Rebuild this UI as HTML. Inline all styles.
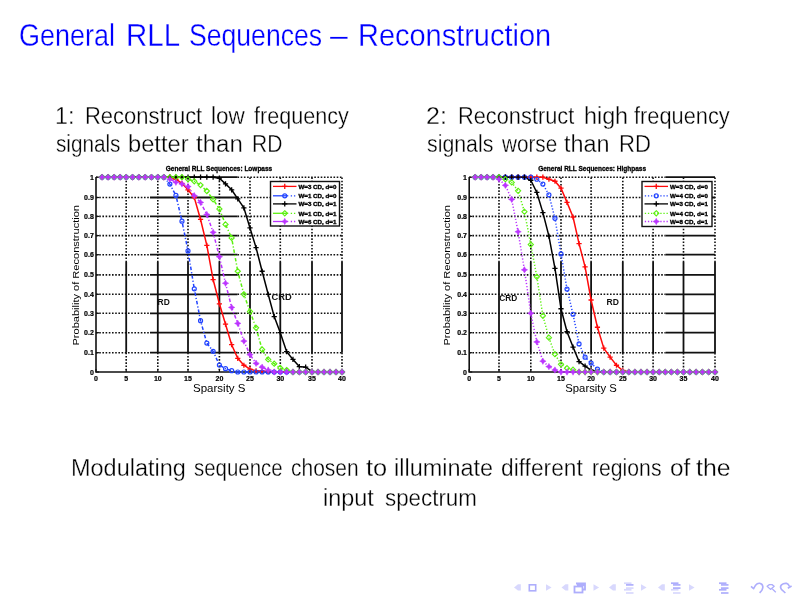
<!DOCTYPE html><html><head><meta charset="utf-8"><title>General RLL Sequences – Reconstruction</title><style>
html,body{margin:0;padding:0;background:#fff;}
body{width:800px;height:600px;overflow:hidden;position:relative;font-family:"Liberation Sans",Arial,sans-serif;}
.tx{position:absolute;white-space:nowrap;line-height:1;transform-origin:0 0;-webkit-text-stroke:0.3px #fff;paint-order:fill stroke;}
svg{position:absolute;left:0;top:0;}
.tk{font:bold 7px "Liberation Sans",sans-serif;fill:#000;stroke:#000;stroke-width:0.2px;}
.lg{font:bold 6.2px "Liberation Sans",sans-serif;fill:#000;stroke:#000;stroke-width:0.35px;}
.pt{font:bold 6.5px "Liberation Sans",sans-serif;fill:#000;stroke:#000;stroke-width:0.3px;}
.al{font:10.5px "Liberation Sans",sans-serif;fill:#000;}
.yl{font-size:9.6px;}
.rd{font:bold 8.5px "Liberation Sans",sans-serif;fill:#111;}
</style></head><body>
<span class="tx" id="t_0" style="left:18.92px;top:20.48px;font-size:30.5px;color:#0000ff;transform:scaleX(0.8843)">General</span>
<span class="tx" id="t_1" style="left:125.52px;top:20.48px;font-size:30.5px;color:#0000ff;transform:scaleX(0.9653)">RLL</span>
<span class="tx" id="t_2" style="left:188.58px;top:20.48px;font-size:30.5px;color:#0000ff;transform:scaleX(0.8717)">Sequences</span>
<span class="tx" id="t_3" style="left:330.45px;top:20.48px;font-size:30.5px;color:#0000ff;transform:scaleX(1.0500)">–</span>
<span class="tx" id="t_4" style="left:357.55px;top:20.48px;font-size:30.5px;color:#0000ff;transform:scaleX(0.9493)">Reconstruction</span>
<span class="tx" id="a1_0" style="left:55.09px;top:105.33px;font-size:23px;color:#000;transform:scaleX(1.0094)">1:</span>
<span class="tx" id="a1_1" style="left:85.49px;top:105.33px;font-size:23px;color:#000;transform:scaleX(0.9552)">Reconstruct</span>
<span class="tx" id="a1_2" style="left:210.72px;top:105.33px;font-size:23px;color:#000;transform:scaleX(0.9764)">low</span>
<span class="tx" id="a1_3" style="left:253.60px;top:105.33px;font-size:23px;color:#000;transform:scaleX(0.9389)">frequency</span>
<span class="tx" id="a2_0" style="left:56.20px;top:133.33px;font-size:23px;color:#000;transform:scaleX(0.9002)">signals</span>
<span class="tx" id="a2_1" style="left:127.92px;top:133.33px;font-size:23px;color:#000;transform:scaleX(1.0309)">better</span>
<span class="tx" id="a2_2" style="left:196.10px;top:133.33px;font-size:23px;color:#000;transform:scaleX(1.0450)">than</span>
<span class="tx" id="a2_3" style="left:252.04px;top:133.33px;font-size:23px;color:#000;transform:scaleX(0.9127)">RD</span>
<span class="tx" id="b1_0" style="left:426.21px;top:105.33px;font-size:23px;color:#000;transform:scaleX(1.0869)">2:</span>
<span class="tx" id="b1_1" style="left:458.35px;top:105.33px;font-size:23px;color:#000;transform:scaleX(0.9475)">Reconstruct</span>
<span class="tx" id="b1_2" style="left:583.79px;top:105.33px;font-size:23px;color:#000;transform:scaleX(1.0134)">high</span>
<span class="tx" id="b1_3" style="left:634.20px;top:105.33px;font-size:23px;color:#000;transform:scaleX(0.9477)">frequency</span>
<span class="tx" id="b2_0" style="left:427.40px;top:133.33px;font-size:23px;color:#000;transform:scaleX(0.9269)">signals</span>
<span class="tx" id="b2_1" style="left:502.35px;top:133.33px;font-size:23px;color:#000;transform:scaleX(0.8991)">worse</span>
<span class="tx" id="b2_2" style="left:564.20px;top:133.33px;font-size:23px;color:#000;transform:scaleX(1.0165)">than</span>
<span class="tx" id="b2_3" style="left:618.74px;top:133.33px;font-size:23px;color:#000;transform:scaleX(0.9601)">RD</span>
<span class="tx" id="c1_0" style="left:70.78px;top:457.33px;font-size:23px;color:#000;transform:scaleX(1.0205)">Modulating</span>
<span class="tx" id="c1_1" style="left:193.95px;top:457.33px;font-size:23px;color:#000;transform:scaleX(0.8878)">sequence</span>
<span class="tx" id="c1_2" style="left:291.10px;top:457.33px;font-size:23px;color:#000;transform:scaleX(0.9124)">chosen</span>
<span class="tx" id="c1_3" style="left:366.10px;top:457.33px;font-size:23px;color:#000;transform:scaleX(1.1039)">to</span>
<span class="tx" id="c1_4" style="left:394.43px;top:457.33px;font-size:23px;color:#000;transform:scaleX(1.0198)">illuminate</span>
<span class="tx" id="c1_5" style="left:500.70px;top:457.33px;font-size:23px;color:#000;transform:scaleX(0.9886)">different</span>
<span class="tx" id="c1_6" style="left:591.78px;top:457.33px;font-size:23px;color:#000;transform:scaleX(0.9211)">regions</span>
<span class="tx" id="c1_7" style="left:670.45px;top:457.33px;font-size:23px;color:#000;transform:scaleX(1.0585)">of</span>
<span class="tx" id="c1_8" style="left:696.10px;top:457.33px;font-size:23px;color:#000;transform:scaleX(1.0808)">the</span>
<span class="tx" id="c2_0" style="left:323.18px;top:487.33px;font-size:23px;color:#000;transform:scaleX(1.0175)">input</span>
<span class="tx" id="c2_1" style="left:384.80px;top:487.33px;font-size:23px;color:#000;transform:scaleX(0.9714)">spectrum</span>
<svg width="800" height="600" viewBox="0 0 800 600">
<path d="M96 352.7H150" stroke="#111" stroke-width="1.6" stroke-dasharray="1.6 1.6" fill="none"/>
<path d="M150 352.7H237.5" stroke="#111" stroke-width="1.8" fill="none"/>
<path d="M237.5 352.7H342" stroke="#111" stroke-width="1.6" stroke-dasharray="1.6 1.6" fill="none"/>
<path d="M96 332.7H150" stroke="#111" stroke-width="1.6" stroke-dasharray="1.6 1.6" fill="none"/>
<path d="M150 332.7H237.5" stroke="#111" stroke-width="1.8" fill="none"/>
<path d="M237.5 332.7H342" stroke="#111" stroke-width="1.6" stroke-dasharray="1.6 1.6" fill="none"/>
<path d="M96 313.3H150" stroke="#111" stroke-width="1.6" stroke-dasharray="1.6 1.6" fill="none"/>
<path d="M150 313.3H237.5" stroke="#111" stroke-width="1.8" fill="none"/>
<path d="M237.5 313.3H342" stroke="#111" stroke-width="1.6" stroke-dasharray="1.6 1.6" fill="none"/>
<path d="M96 294.3H150" stroke="#111" stroke-width="1.6" stroke-dasharray="1.6 1.6" fill="none"/>
<path d="M150 294.3H237.5" stroke="#111" stroke-width="1.8" fill="none"/>
<path d="M237.5 294.3H342" stroke="#111" stroke-width="1.6" stroke-dasharray="1.6 1.6" fill="none"/>
<path d="M96 274.9H150" stroke="#111" stroke-width="1.6" stroke-dasharray="1.6 1.6" fill="none"/>
<path d="M150 274.9H237.5" stroke="#111" stroke-width="1.8" fill="none"/>
<path d="M237.5 274.9H342" stroke="#111" stroke-width="1.6" stroke-dasharray="1.6 1.6" fill="none"/>
<path d="M96 254.7H150" stroke="#111" stroke-width="1.6" stroke-dasharray="1.6 1.6" fill="none"/>
<path d="M150 254.7H237.5" stroke="#111" stroke-width="1.8" fill="none"/>
<path d="M237.5 254.7H342" stroke="#111" stroke-width="1.6" stroke-dasharray="1.6 1.6" fill="none"/>
<path d="M96 235.6H150" stroke="#111" stroke-width="1.6" stroke-dasharray="1.6 1.6" fill="none"/>
<path d="M150 235.6H237.5" stroke="#111" stroke-width="1.8" fill="none"/>
<path d="M237.5 235.6H342" stroke="#111" stroke-width="1.6" stroke-dasharray="1.6 1.6" fill="none"/>
<path d="M96 216.4H150" stroke="#111" stroke-width="1.6" stroke-dasharray="1.6 1.6" fill="none"/>
<path d="M150 216.4H237.5" stroke="#111" stroke-width="1.8" fill="none"/>
<path d="M237.5 216.4H342" stroke="#111" stroke-width="1.6" stroke-dasharray="1.6 1.6" fill="none"/>
<path d="M96 197.5H150" stroke="#111" stroke-width="1.6" stroke-dasharray="1.6 1.6" fill="none"/>
<path d="M150 197.5H237.5" stroke="#111" stroke-width="1.8" fill="none"/>
<path d="M237.5 197.5H342" stroke="#111" stroke-width="1.6" stroke-dasharray="1.6 1.6" fill="none"/>
<path d="M96 177.2H150" stroke="#111" stroke-width="1.6" stroke-dasharray="1.6 1.6" fill="none"/>
<path d="M150 177.2H237.5" stroke="#111" stroke-width="1.8" fill="none"/>
<path d="M237.5 177.2H342" stroke="#111" stroke-width="1.6" stroke-dasharray="1.6 1.6" fill="none"/>
<path d="M126.2 177.5V262" stroke="#111" stroke-width="1.6" stroke-dasharray="1.6 1.6" fill="none"/>
<path d="M126.2 262V352.7" stroke="#111" stroke-width="1.8" fill="none"/>
<path d="M126.2 352.7V372" stroke="#111" stroke-width="1.6" stroke-dasharray="1.6 1.6" fill="none"/>
<path d="M157.8 177.5V262" stroke="#111" stroke-width="1.6" stroke-dasharray="1.6 1.6" fill="none"/>
<path d="M157.8 262V352.7" stroke="#111" stroke-width="1.8" fill="none"/>
<path d="M157.8 352.7V372" stroke="#111" stroke-width="1.6" stroke-dasharray="1.6 1.6" fill="none"/>
<path d="M188 177.5V262" stroke="#111" stroke-width="1.6" stroke-dasharray="1.6 1.6" fill="none"/>
<path d="M188 262V352.7" stroke="#111" stroke-width="1.8" fill="none"/>
<path d="M188 352.7V372" stroke="#111" stroke-width="1.6" stroke-dasharray="1.6 1.6" fill="none"/>
<path d="M219.4 177.5V262" stroke="#111" stroke-width="1.6" stroke-dasharray="1.6 1.6" fill="none"/>
<path d="M219.4 262V352.7" stroke="#111" stroke-width="1.8" fill="none"/>
<path d="M219.4 352.7V372" stroke="#111" stroke-width="1.6" stroke-dasharray="1.6 1.6" fill="none"/>
<path d="M250 177.5V262" stroke="#111" stroke-width="1.6" stroke-dasharray="1.6 1.6" fill="none"/>
<path d="M250 262V352.7" stroke="#111" stroke-width="1.8" fill="none"/>
<path d="M250 352.7V372" stroke="#111" stroke-width="1.6" stroke-dasharray="1.6 1.6" fill="none"/>
<path d="M280.3 177.5V262" stroke="#111" stroke-width="1.6" stroke-dasharray="1.6 1.6" fill="none"/>
<path d="M280.3 262V352.7" stroke="#111" stroke-width="1.8" fill="none"/>
<path d="M280.3 352.7V372" stroke="#111" stroke-width="1.6" stroke-dasharray="1.6 1.6" fill="none"/>
<path d="M312 177.5V262" stroke="#111" stroke-width="1.6" stroke-dasharray="1.6 1.6" fill="none"/>
<path d="M312 262V352.7" stroke="#111" stroke-width="1.8" fill="none"/>
<path d="M312 352.7V372" stroke="#111" stroke-width="1.6" stroke-dasharray="1.6 1.6" fill="none"/>
<path d="M342 177.5V262" stroke="#111" stroke-width="1.6" stroke-dasharray="1.6 1.6" fill="none"/>
<path d="M342 262V352.7" stroke="#111" stroke-width="1.8" fill="none"/>
<path d="M342 352.7V372" stroke="#111" stroke-width="1.6" stroke-dasharray="1.6 1.6" fill="none"/>
<path d="M96 177V372H342" stroke="#111" stroke-width="1.6" fill="none"/>
<path d="M96 372h3" stroke="#111" stroke-width="1.2"/>
<path d="M96 352.7h3" stroke="#111" stroke-width="1.2"/>
<path d="M96 332.7h3" stroke="#111" stroke-width="1.2"/>
<path d="M96 313.3h3" stroke="#111" stroke-width="1.2"/>
<path d="M96 294.3h3" stroke="#111" stroke-width="1.2"/>
<path d="M96 274.9h3" stroke="#111" stroke-width="1.2"/>
<path d="M96 254.7h3" stroke="#111" stroke-width="1.2"/>
<path d="M96 235.6h3" stroke="#111" stroke-width="1.2"/>
<path d="M96 216.4h3" stroke="#111" stroke-width="1.2"/>
<path d="M96 197.5h3" stroke="#111" stroke-width="1.2"/>
<path d="M96 177.2h3" stroke="#111" stroke-width="1.2"/>
<path d="M96 372v-3" stroke="#111" stroke-width="1.2"/>
<path d="M126.2 372v-3" stroke="#111" stroke-width="1.2"/>
<path d="M157.8 372v-3" stroke="#111" stroke-width="1.2"/>
<path d="M188 372v-3" stroke="#111" stroke-width="1.2"/>
<path d="M219.4 372v-3" stroke="#111" stroke-width="1.2"/>
<path d="M250 372v-3" stroke="#111" stroke-width="1.2"/>
<path d="M280.3 372v-3" stroke="#111" stroke-width="1.2"/>
<path d="M312 372v-3" stroke="#111" stroke-width="1.2"/>
<path d="M342 372v-3" stroke="#111" stroke-width="1.2"/>
<text x="93.8" y="374.5" text-anchor="end" class="tk">0</text>
<text x="93.8" y="355.2" text-anchor="end" class="tk">0.1</text>
<text x="93.8" y="335.2" text-anchor="end" class="tk">0.2</text>
<text x="93.8" y="315.8" text-anchor="end" class="tk">0.3</text>
<text x="93.8" y="296.8" text-anchor="end" class="tk">0.4</text>
<text x="93.8" y="277.4" text-anchor="end" class="tk">0.5</text>
<text x="93.8" y="257.2" text-anchor="end" class="tk">0.6</text>
<text x="93.8" y="238.1" text-anchor="end" class="tk">0.7</text>
<text x="93.8" y="218.9" text-anchor="end" class="tk">0.8</text>
<text x="93.8" y="200" text-anchor="end" class="tk">0.9</text>
<text x="93.8" y="179.7" text-anchor="end" class="tk">1</text>
<text x="96" y="381.2" text-anchor="middle" class="tk">0</text>
<text x="126.2" y="381.2" text-anchor="middle" class="tk">5</text>
<text x="157.8" y="381.2" text-anchor="middle" class="tk">10</text>
<text x="188" y="381.2" text-anchor="middle" class="tk">15</text>
<text x="219.4" y="381.2" text-anchor="middle" class="tk">20</text>
<text x="250" y="381.2" text-anchor="middle" class="tk">25</text>
<text x="280.3" y="381.2" text-anchor="middle" class="tk">30</text>
<text x="312" y="381.2" text-anchor="middle" class="tk">35</text>
<text x="342" y="381.2" text-anchor="middle" class="tk">40</text>
<polyline points="102.04,177.2 108.08,177.2 114.12,177.2 120.16,177.2 126.2,177.2 132.52,177.2 138.84,177.2 145.16,177.2 151.48,177.2 157.8,177.2 163.84,177.2 169.88,177.2 175.92,179.23 181.96,183.29 188,189.79 194.28,197.5 200.56,219.47 206.84,245.34 213.12,279.56 219.4,303.8 225.52,324.16 231.64,344.7 237.76,358.3 243.88,365.25 250,369.11 256.06,370.84 262.12,371.23 268.18,371.61 274.24,372 280.3,372 286.64,372 292.98,372 299.32,372 305.66,372 312,372 318,372 324,372 330,372 336,372 342,372" stroke="#ff0a0a" stroke-width="1.5" fill="none"/>
<polyline points="102.04,177.2 108.08,177.2 114.12,177.2 120.16,177.2 126.2,177.2 132.52,177.2 138.84,177.2 145.16,177.2 151.48,177.2 157.8,177.2 163.84,177.2 169.88,184.1 175.92,195.47 181.96,221.2 188,250.88 194.28,288.87 200.56,320.67 206.84,343.1 213.12,351.3 219.4,365.05 225.52,368.72 231.64,370.65 237.76,372 243.88,372 250,372 256.06,372 262.12,372 268.18,372 274.24,372 280.3,372 286.64,372 292.98,372 299.32,372 305.66,372 312,372 318,372 324,372 330,372 336,372 342,372" stroke="#2244ff" stroke-width="1.5" fill="none" stroke-dasharray="3.5 2 1.2 2"/>
<polyline points="102.04,177.2 108.08,177.2 114.12,177.2 120.16,177.2 126.2,177.2 132.52,177.2 138.84,177.2 145.16,177.2 151.48,177.2 157.8,177.2 163.84,177.2 169.88,177.2 175.92,177.2 181.96,177.2 188,177.2 194.28,177.2 200.56,177.2 206.84,177.2 213.12,177.2 219.4,178.22 225.52,183.9 231.64,189.79 237.76,198.82 243.88,207.9 250,227.92 256.06,247.63 262.12,271.26 268.18,294.3 274.24,316.6 280.3,332.7 286.64,351.7 292.98,359.45 299.32,366.6 305.66,367.18 312,371.42 318,372 324,372 330,372 336,372 342,372" stroke="#000000" stroke-width="1.5" fill="none"/>
<polyline points="102.04,177.2 108.08,177.2 114.12,177.2 120.16,177.2 126.2,177.2 132.52,177.2 138.84,177.2 145.16,177.2 151.48,177.2 157.8,177.2 163.84,177.2 169.88,177.2 175.92,177.2 181.96,177.2 188,179.23 194.28,181.26 200.56,185.12 206.84,191 213.12,199.39 219.4,209.03 225.52,224.46 231.64,237.89 237.76,271.26 243.88,294.3 250,311.4 256.06,327.85 262.12,349.5 268.18,359.45 274.24,363.7 280.3,367.95 286.64,370.07 292.98,372 299.32,372 305.66,372 312,372 318,372 324,372 330,372 336,372 342,372" stroke="#5cf010" stroke-width="1.5" fill="none" stroke-dasharray="3.5 2 1.2 2"/>
<polyline points="102.04,177.2 108.08,177.2 114.12,177.2 120.16,177.2 126.2,177.2 132.52,177.2 138.84,177.2 145.16,177.2 151.48,177.2 157.8,177.2 163.84,177.2 169.88,179.23 175.92,182.27 181.96,183.9 188,186.54 194.28,195.67 200.56,202.41 206.84,214.51 213.12,232.34 219.4,256.72 225.52,283.24 231.64,307.41 237.76,323.39 243.88,341.1 250,354.63 256.06,363.31 262.12,367.18 268.18,370.07 274.24,372 280.3,372 286.64,372 292.98,372 299.32,372 305.66,372 312,372 318,372 324,372 330,372 336,372 342,372" stroke="#bb33ff" stroke-width="1.5" fill="none" stroke-dasharray="3.5 2 1.2 2"/>
<path d="M99.44 177.2h5.2M102.04 174.6v5.2" stroke="#ff0a0a" stroke-width="1.3" fill="none"/>
<path d="M105.48 177.2h5.2M108.08 174.6v5.2" stroke="#ff0a0a" stroke-width="1.3" fill="none"/>
<path d="M111.52 177.2h5.2M114.12 174.6v5.2" stroke="#ff0a0a" stroke-width="1.3" fill="none"/>
<path d="M117.56 177.2h5.2M120.16 174.6v5.2" stroke="#ff0a0a" stroke-width="1.3" fill="none"/>
<path d="M123.6 177.2h5.2M126.2 174.6v5.2" stroke="#ff0a0a" stroke-width="1.3" fill="none"/>
<path d="M129.92 177.2h5.2M132.52 174.6v5.2" stroke="#ff0a0a" stroke-width="1.3" fill="none"/>
<path d="M136.24 177.2h5.2M138.84 174.6v5.2" stroke="#ff0a0a" stroke-width="1.3" fill="none"/>
<path d="M142.56 177.2h5.2M145.16 174.6v5.2" stroke="#ff0a0a" stroke-width="1.3" fill="none"/>
<path d="M148.88 177.2h5.2M151.48 174.6v5.2" stroke="#ff0a0a" stroke-width="1.3" fill="none"/>
<path d="M155.2 177.2h5.2M157.8 174.6v5.2" stroke="#ff0a0a" stroke-width="1.3" fill="none"/>
<path d="M161.24 177.2h5.2M163.84 174.6v5.2" stroke="#ff0a0a" stroke-width="1.3" fill="none"/>
<path d="M167.28 177.2h5.2M169.88 174.6v5.2" stroke="#ff0a0a" stroke-width="1.3" fill="none"/>
<path d="M173.32 179.23h5.2M175.92 176.63v5.2" stroke="#ff0a0a" stroke-width="1.3" fill="none"/>
<path d="M179.36 183.29h5.2M181.96 180.69v5.2" stroke="#ff0a0a" stroke-width="1.3" fill="none"/>
<path d="M185.4 189.79h5.2M188 187.19v5.2" stroke="#ff0a0a" stroke-width="1.3" fill="none"/>
<path d="M191.68 197.5h5.2M194.28 194.9v5.2" stroke="#ff0a0a" stroke-width="1.3" fill="none"/>
<path d="M197.96 219.47h5.2M200.56 216.87v5.2" stroke="#ff0a0a" stroke-width="1.3" fill="none"/>
<path d="M204.24 245.34h5.2M206.84 242.74v5.2" stroke="#ff0a0a" stroke-width="1.3" fill="none"/>
<path d="M210.52 279.56h5.2M213.12 276.96v5.2" stroke="#ff0a0a" stroke-width="1.3" fill="none"/>
<path d="M216.8 303.8h5.2M219.4 301.2v5.2" stroke="#ff0a0a" stroke-width="1.3" fill="none"/>
<path d="M222.92 324.16h5.2M225.52 321.56v5.2" stroke="#ff0a0a" stroke-width="1.3" fill="none"/>
<path d="M229.04 344.7h5.2M231.64 342.1v5.2" stroke="#ff0a0a" stroke-width="1.3" fill="none"/>
<path d="M235.16 358.3h5.2M237.76 355.7v5.2" stroke="#ff0a0a" stroke-width="1.3" fill="none"/>
<path d="M241.28 365.25h5.2M243.88 362.64v5.2" stroke="#ff0a0a" stroke-width="1.3" fill="none"/>
<path d="M247.4 369.11h5.2M250 366.5v5.2" stroke="#ff0a0a" stroke-width="1.3" fill="none"/>
<path d="M253.46 370.84h5.2M256.06 368.24v5.2" stroke="#ff0a0a" stroke-width="1.3" fill="none"/>
<path d="M259.52 371.23h5.2M262.12 368.63v5.2" stroke="#ff0a0a" stroke-width="1.3" fill="none"/>
<path d="M265.58 371.61h5.2M268.18 369.01v5.2" stroke="#ff0a0a" stroke-width="1.3" fill="none"/>
<path d="M271.64 372h5.2M274.24 369.4v5.2" stroke="#ff0a0a" stroke-width="1.3" fill="none"/>
<path d="M277.7 372h5.2M280.3 369.4v5.2" stroke="#ff0a0a" stroke-width="1.3" fill="none"/>
<path d="M284.04 372h5.2M286.64 369.4v5.2" stroke="#ff0a0a" stroke-width="1.3" fill="none"/>
<path d="M290.38 372h5.2M292.98 369.4v5.2" stroke="#ff0a0a" stroke-width="1.3" fill="none"/>
<path d="M296.72 372h5.2M299.32 369.4v5.2" stroke="#ff0a0a" stroke-width="1.3" fill="none"/>
<path d="M303.06 372h5.2M305.66 369.4v5.2" stroke="#ff0a0a" stroke-width="1.3" fill="none"/>
<path d="M309.4 372h5.2M312 369.4v5.2" stroke="#ff0a0a" stroke-width="1.3" fill="none"/>
<path d="M315.4 372h5.2M318 369.4v5.2" stroke="#ff0a0a" stroke-width="1.3" fill="none"/>
<path d="M321.4 372h5.2M324 369.4v5.2" stroke="#ff0a0a" stroke-width="1.3" fill="none"/>
<path d="M327.4 372h5.2M330 369.4v5.2" stroke="#ff0a0a" stroke-width="1.3" fill="none"/>
<path d="M333.4 372h5.2M336 369.4v5.2" stroke="#ff0a0a" stroke-width="1.3" fill="none"/>
<path d="M339.4 372h5.2M342 369.4v5.2" stroke="#ff0a0a" stroke-width="1.3" fill="none"/>
<circle cx="102.04" cy="177.2" r="2.0" stroke="#2244ff" stroke-width="1.2" fill="none"/>
<circle cx="108.08" cy="177.2" r="2.0" stroke="#2244ff" stroke-width="1.2" fill="none"/>
<circle cx="114.12" cy="177.2" r="2.0" stroke="#2244ff" stroke-width="1.2" fill="none"/>
<circle cx="120.16" cy="177.2" r="2.0" stroke="#2244ff" stroke-width="1.2" fill="none"/>
<circle cx="126.2" cy="177.2" r="2.0" stroke="#2244ff" stroke-width="1.2" fill="none"/>
<circle cx="132.52" cy="177.2" r="2.0" stroke="#2244ff" stroke-width="1.2" fill="none"/>
<circle cx="138.84" cy="177.2" r="2.0" stroke="#2244ff" stroke-width="1.2" fill="none"/>
<circle cx="145.16" cy="177.2" r="2.0" stroke="#2244ff" stroke-width="1.2" fill="none"/>
<circle cx="151.48" cy="177.2" r="2.0" stroke="#2244ff" stroke-width="1.2" fill="none"/>
<circle cx="157.8" cy="177.2" r="2.0" stroke="#2244ff" stroke-width="1.2" fill="none"/>
<circle cx="163.84" cy="177.2" r="2.0" stroke="#2244ff" stroke-width="1.2" fill="none"/>
<circle cx="169.88" cy="184.1" r="2.0" stroke="#2244ff" stroke-width="1.2" fill="none"/>
<circle cx="175.92" cy="195.47" r="2.0" stroke="#2244ff" stroke-width="1.2" fill="none"/>
<circle cx="181.96" cy="221.2" r="2.0" stroke="#2244ff" stroke-width="1.2" fill="none"/>
<circle cx="188" cy="250.88" r="2.0" stroke="#2244ff" stroke-width="1.2" fill="none"/>
<circle cx="194.28" cy="288.87" r="2.0" stroke="#2244ff" stroke-width="1.2" fill="none"/>
<circle cx="200.56" cy="320.67" r="2.0" stroke="#2244ff" stroke-width="1.2" fill="none"/>
<circle cx="206.84" cy="343.1" r="2.0" stroke="#2244ff" stroke-width="1.2" fill="none"/>
<circle cx="213.12" cy="351.3" r="2.0" stroke="#2244ff" stroke-width="1.2" fill="none"/>
<circle cx="219.4" cy="365.05" r="2.0" stroke="#2244ff" stroke-width="1.2" fill="none"/>
<circle cx="225.52" cy="368.72" r="2.0" stroke="#2244ff" stroke-width="1.2" fill="none"/>
<circle cx="231.64" cy="370.65" r="2.0" stroke="#2244ff" stroke-width="1.2" fill="none"/>
<circle cx="237.76" cy="372" r="2.0" stroke="#2244ff" stroke-width="1.2" fill="none"/>
<circle cx="243.88" cy="372" r="2.0" stroke="#2244ff" stroke-width="1.2" fill="none"/>
<circle cx="250" cy="372" r="2.0" stroke="#2244ff" stroke-width="1.2" fill="none"/>
<circle cx="256.06" cy="372" r="2.0" stroke="#2244ff" stroke-width="1.2" fill="none"/>
<circle cx="262.12" cy="372" r="2.0" stroke="#2244ff" stroke-width="1.2" fill="none"/>
<circle cx="268.18" cy="372" r="2.0" stroke="#2244ff" stroke-width="1.2" fill="none"/>
<circle cx="274.24" cy="372" r="2.0" stroke="#2244ff" stroke-width="1.2" fill="none"/>
<circle cx="280.3" cy="372" r="2.0" stroke="#2244ff" stroke-width="1.2" fill="none"/>
<circle cx="286.64" cy="372" r="2.0" stroke="#2244ff" stroke-width="1.2" fill="none"/>
<circle cx="292.98" cy="372" r="2.0" stroke="#2244ff" stroke-width="1.2" fill="none"/>
<circle cx="299.32" cy="372" r="2.0" stroke="#2244ff" stroke-width="1.2" fill="none"/>
<circle cx="305.66" cy="372" r="2.0" stroke="#2244ff" stroke-width="1.2" fill="none"/>
<circle cx="312" cy="372" r="2.0" stroke="#2244ff" stroke-width="1.2" fill="none"/>
<circle cx="318" cy="372" r="2.0" stroke="#2244ff" stroke-width="1.2" fill="none"/>
<circle cx="324" cy="372" r="2.0" stroke="#2244ff" stroke-width="1.2" fill="none"/>
<circle cx="330" cy="372" r="2.0" stroke="#2244ff" stroke-width="1.2" fill="none"/>
<circle cx="336" cy="372" r="2.0" stroke="#2244ff" stroke-width="1.2" fill="none"/>
<circle cx="342" cy="372" r="2.0" stroke="#2244ff" stroke-width="1.2" fill="none"/>
<path d="M99.44 177.2h5.2M102.04 174.6v5.2" stroke="#000000" stroke-width="1.3" fill="none"/>
<path d="M105.48 177.2h5.2M108.08 174.6v5.2" stroke="#000000" stroke-width="1.3" fill="none"/>
<path d="M111.52 177.2h5.2M114.12 174.6v5.2" stroke="#000000" stroke-width="1.3" fill="none"/>
<path d="M117.56 177.2h5.2M120.16 174.6v5.2" stroke="#000000" stroke-width="1.3" fill="none"/>
<path d="M123.6 177.2h5.2M126.2 174.6v5.2" stroke="#000000" stroke-width="1.3" fill="none"/>
<path d="M129.92 177.2h5.2M132.52 174.6v5.2" stroke="#000000" stroke-width="1.3" fill="none"/>
<path d="M136.24 177.2h5.2M138.84 174.6v5.2" stroke="#000000" stroke-width="1.3" fill="none"/>
<path d="M142.56 177.2h5.2M145.16 174.6v5.2" stroke="#000000" stroke-width="1.3" fill="none"/>
<path d="M148.88 177.2h5.2M151.48 174.6v5.2" stroke="#000000" stroke-width="1.3" fill="none"/>
<path d="M155.2 177.2h5.2M157.8 174.6v5.2" stroke="#000000" stroke-width="1.3" fill="none"/>
<path d="M161.24 177.2h5.2M163.84 174.6v5.2" stroke="#000000" stroke-width="1.3" fill="none"/>
<path d="M167.28 177.2h5.2M169.88 174.6v5.2" stroke="#000000" stroke-width="1.3" fill="none"/>
<path d="M173.32 177.2h5.2M175.92 174.6v5.2" stroke="#000000" stroke-width="1.3" fill="none"/>
<path d="M179.36 177.2h5.2M181.96 174.6v5.2" stroke="#000000" stroke-width="1.3" fill="none"/>
<path d="M185.4 177.2h5.2M188 174.6v5.2" stroke="#000000" stroke-width="1.3" fill="none"/>
<path d="M191.68 177.2h5.2M194.28 174.6v5.2" stroke="#000000" stroke-width="1.3" fill="none"/>
<path d="M197.96 177.2h5.2M200.56 174.6v5.2" stroke="#000000" stroke-width="1.3" fill="none"/>
<path d="M204.24 177.2h5.2M206.84 174.6v5.2" stroke="#000000" stroke-width="1.3" fill="none"/>
<path d="M210.52 177.2h5.2M213.12 174.6v5.2" stroke="#000000" stroke-width="1.3" fill="none"/>
<path d="M216.8 178.22h5.2M219.4 175.62v5.2" stroke="#000000" stroke-width="1.3" fill="none"/>
<path d="M222.92 183.9h5.2M225.52 181.3v5.2" stroke="#000000" stroke-width="1.3" fill="none"/>
<path d="M229.04 189.79h5.2M231.64 187.19v5.2" stroke="#000000" stroke-width="1.3" fill="none"/>
<path d="M235.16 198.82h5.2M237.76 196.22v5.2" stroke="#000000" stroke-width="1.3" fill="none"/>
<path d="M241.28 207.9h5.2M243.88 205.3v5.2" stroke="#000000" stroke-width="1.3" fill="none"/>
<path d="M247.4 227.92h5.2M250 225.32v5.2" stroke="#000000" stroke-width="1.3" fill="none"/>
<path d="M253.46 247.63h5.2M256.06 245.03v5.2" stroke="#000000" stroke-width="1.3" fill="none"/>
<path d="M259.52 271.26h5.2M262.12 268.66v5.2" stroke="#000000" stroke-width="1.3" fill="none"/>
<path d="M265.58 294.3h5.2M268.18 291.7v5.2" stroke="#000000" stroke-width="1.3" fill="none"/>
<path d="M271.64 316.6h5.2M274.24 314v5.2" stroke="#000000" stroke-width="1.3" fill="none"/>
<path d="M277.7 332.7h5.2M280.3 330.1v5.2" stroke="#000000" stroke-width="1.3" fill="none"/>
<path d="M284.04 351.7h5.2M286.64 349.1v5.2" stroke="#000000" stroke-width="1.3" fill="none"/>
<path d="M290.38 359.45h5.2M292.98 356.85v5.2" stroke="#000000" stroke-width="1.3" fill="none"/>
<path d="M296.72 366.6h5.2M299.32 364v5.2" stroke="#000000" stroke-width="1.3" fill="none"/>
<path d="M303.06 367.18h5.2M305.66 364.57v5.2" stroke="#000000" stroke-width="1.3" fill="none"/>
<path d="M309.4 371.42h5.2M312 368.82v5.2" stroke="#000000" stroke-width="1.3" fill="none"/>
<path d="M315.4 372h5.2M318 369.4v5.2" stroke="#000000" stroke-width="1.3" fill="none"/>
<path d="M321.4 372h5.2M324 369.4v5.2" stroke="#000000" stroke-width="1.3" fill="none"/>
<path d="M327.4 372h5.2M330 369.4v5.2" stroke="#000000" stroke-width="1.3" fill="none"/>
<path d="M333.4 372h5.2M336 369.4v5.2" stroke="#000000" stroke-width="1.3" fill="none"/>
<path d="M339.4 372h5.2M342 369.4v5.2" stroke="#000000" stroke-width="1.3" fill="none"/>
<path d="M102.04 174.6l2.6 2.6l-2.6 2.6l-2.6 -2.6z" stroke="#5cf010" stroke-width="1.1" fill="none"/>
<path d="M108.08 174.6l2.6 2.6l-2.6 2.6l-2.6 -2.6z" stroke="#5cf010" stroke-width="1.1" fill="none"/>
<path d="M114.12 174.6l2.6 2.6l-2.6 2.6l-2.6 -2.6z" stroke="#5cf010" stroke-width="1.1" fill="none"/>
<path d="M120.16 174.6l2.6 2.6l-2.6 2.6l-2.6 -2.6z" stroke="#5cf010" stroke-width="1.1" fill="none"/>
<path d="M126.2 174.6l2.6 2.6l-2.6 2.6l-2.6 -2.6z" stroke="#5cf010" stroke-width="1.1" fill="none"/>
<path d="M132.52 174.6l2.6 2.6l-2.6 2.6l-2.6 -2.6z" stroke="#5cf010" stroke-width="1.1" fill="none"/>
<path d="M138.84 174.6l2.6 2.6l-2.6 2.6l-2.6 -2.6z" stroke="#5cf010" stroke-width="1.1" fill="none"/>
<path d="M145.16 174.6l2.6 2.6l-2.6 2.6l-2.6 -2.6z" stroke="#5cf010" stroke-width="1.1" fill="none"/>
<path d="M151.48 174.6l2.6 2.6l-2.6 2.6l-2.6 -2.6z" stroke="#5cf010" stroke-width="1.1" fill="none"/>
<path d="M157.8 174.6l2.6 2.6l-2.6 2.6l-2.6 -2.6z" stroke="#5cf010" stroke-width="1.1" fill="none"/>
<path d="M163.84 174.6l2.6 2.6l-2.6 2.6l-2.6 -2.6z" stroke="#5cf010" stroke-width="1.1" fill="none"/>
<path d="M169.88 174.6l2.6 2.6l-2.6 2.6l-2.6 -2.6z" stroke="#5cf010" stroke-width="1.1" fill="none"/>
<path d="M175.92 174.6l2.6 2.6l-2.6 2.6l-2.6 -2.6z" stroke="#5cf010" stroke-width="1.1" fill="none"/>
<path d="M181.96 174.6l2.6 2.6l-2.6 2.6l-2.6 -2.6z" stroke="#5cf010" stroke-width="1.1" fill="none"/>
<path d="M188 176.63l2.6 2.6l-2.6 2.6l-2.6 -2.6z" stroke="#5cf010" stroke-width="1.1" fill="none"/>
<path d="M194.28 178.66l2.6 2.6l-2.6 2.6l-2.6 -2.6z" stroke="#5cf010" stroke-width="1.1" fill="none"/>
<path d="M200.56 182.52l2.6 2.6l-2.6 2.6l-2.6 -2.6z" stroke="#5cf010" stroke-width="1.1" fill="none"/>
<path d="M206.84 188.4l2.6 2.6l-2.6 2.6l-2.6 -2.6z" stroke="#5cf010" stroke-width="1.1" fill="none"/>
<path d="M213.12 196.79l2.6 2.6l-2.6 2.6l-2.6 -2.6z" stroke="#5cf010" stroke-width="1.1" fill="none"/>
<path d="M219.4 206.43l2.6 2.6l-2.6 2.6l-2.6 -2.6z" stroke="#5cf010" stroke-width="1.1" fill="none"/>
<path d="M225.52 221.86l2.6 2.6l-2.6 2.6l-2.6 -2.6z" stroke="#5cf010" stroke-width="1.1" fill="none"/>
<path d="M231.64 235.29l2.6 2.6l-2.6 2.6l-2.6 -2.6z" stroke="#5cf010" stroke-width="1.1" fill="none"/>
<path d="M237.76 268.66l2.6 2.6l-2.6 2.6l-2.6 -2.6z" stroke="#5cf010" stroke-width="1.1" fill="none"/>
<path d="M243.88 291.7l2.6 2.6l-2.6 2.6l-2.6 -2.6z" stroke="#5cf010" stroke-width="1.1" fill="none"/>
<path d="M250 308.8l2.6 2.6l-2.6 2.6l-2.6 -2.6z" stroke="#5cf010" stroke-width="1.1" fill="none"/>
<path d="M256.06 325.25l2.6 2.6l-2.6 2.6l-2.6 -2.6z" stroke="#5cf010" stroke-width="1.1" fill="none"/>
<path d="M262.12 346.9l2.6 2.6l-2.6 2.6l-2.6 -2.6z" stroke="#5cf010" stroke-width="1.1" fill="none"/>
<path d="M268.18 356.85l2.6 2.6l-2.6 2.6l-2.6 -2.6z" stroke="#5cf010" stroke-width="1.1" fill="none"/>
<path d="M274.24 361.1l2.6 2.6l-2.6 2.6l-2.6 -2.6z" stroke="#5cf010" stroke-width="1.1" fill="none"/>
<path d="M280.3 365.35l2.6 2.6l-2.6 2.6l-2.6 -2.6z" stroke="#5cf010" stroke-width="1.1" fill="none"/>
<path d="M286.64 367.47l2.6 2.6l-2.6 2.6l-2.6 -2.6z" stroke="#5cf010" stroke-width="1.1" fill="none"/>
<path d="M292.98 369.4l2.6 2.6l-2.6 2.6l-2.6 -2.6z" stroke="#5cf010" stroke-width="1.1" fill="none"/>
<path d="M299.32 369.4l2.6 2.6l-2.6 2.6l-2.6 -2.6z" stroke="#5cf010" stroke-width="1.1" fill="none"/>
<path d="M305.66 369.4l2.6 2.6l-2.6 2.6l-2.6 -2.6z" stroke="#5cf010" stroke-width="1.1" fill="none"/>
<path d="M312 369.4l2.6 2.6l-2.6 2.6l-2.6 -2.6z" stroke="#5cf010" stroke-width="1.1" fill="none"/>
<path d="M318 369.4l2.6 2.6l-2.6 2.6l-2.6 -2.6z" stroke="#5cf010" stroke-width="1.1" fill="none"/>
<path d="M324 369.4l2.6 2.6l-2.6 2.6l-2.6 -2.6z" stroke="#5cf010" stroke-width="1.1" fill="none"/>
<path d="M330 369.4l2.6 2.6l-2.6 2.6l-2.6 -2.6z" stroke="#5cf010" stroke-width="1.1" fill="none"/>
<path d="M336 369.4l2.6 2.6l-2.6 2.6l-2.6 -2.6z" stroke="#5cf010" stroke-width="1.1" fill="none"/>
<path d="M342 369.4l2.6 2.6l-2.6 2.6l-2.6 -2.6z" stroke="#5cf010" stroke-width="1.1" fill="none"/>
<path d="M102.04 174L103.14 176.1L105.24 177.2L103.14 178.3L102.04 180.4L100.94 178.3L98.84 177.2L100.94 176.1Z" fill="#bb33ff" stroke="#bb33ff" stroke-width="0.5"/>
<path d="M108.08 174L109.18 176.1L111.28 177.2L109.18 178.3L108.08 180.4L106.98 178.3L104.88 177.2L106.98 176.1Z" fill="#bb33ff" stroke="#bb33ff" stroke-width="0.5"/>
<path d="M114.12 174L115.22 176.1L117.32 177.2L115.22 178.3L114.12 180.4L113.02 178.3L110.92 177.2L113.02 176.1Z" fill="#bb33ff" stroke="#bb33ff" stroke-width="0.5"/>
<path d="M120.16 174L121.26 176.1L123.36 177.2L121.26 178.3L120.16 180.4L119.06 178.3L116.96 177.2L119.06 176.1Z" fill="#bb33ff" stroke="#bb33ff" stroke-width="0.5"/>
<path d="M126.2 174L127.3 176.1L129.4 177.2L127.3 178.3L126.2 180.4L125.1 178.3L123 177.2L125.1 176.1Z" fill="#bb33ff" stroke="#bb33ff" stroke-width="0.5"/>
<path d="M132.52 174L133.62 176.1L135.72 177.2L133.62 178.3L132.52 180.4L131.42 178.3L129.32 177.2L131.42 176.1Z" fill="#bb33ff" stroke="#bb33ff" stroke-width="0.5"/>
<path d="M138.84 174L139.94 176.1L142.04 177.2L139.94 178.3L138.84 180.4L137.74 178.3L135.64 177.2L137.74 176.1Z" fill="#bb33ff" stroke="#bb33ff" stroke-width="0.5"/>
<path d="M145.16 174L146.26 176.1L148.36 177.2L146.26 178.3L145.16 180.4L144.06 178.3L141.96 177.2L144.06 176.1Z" fill="#bb33ff" stroke="#bb33ff" stroke-width="0.5"/>
<path d="M151.48 174L152.58 176.1L154.68 177.2L152.58 178.3L151.48 180.4L150.38 178.3L148.28 177.2L150.38 176.1Z" fill="#bb33ff" stroke="#bb33ff" stroke-width="0.5"/>
<path d="M157.8 174L158.9 176.1L161 177.2L158.9 178.3L157.8 180.4L156.7 178.3L154.6 177.2L156.7 176.1Z" fill="#bb33ff" stroke="#bb33ff" stroke-width="0.5"/>
<path d="M163.84 174L164.94 176.1L167.04 177.2L164.94 178.3L163.84 180.4L162.74 178.3L160.64 177.2L162.74 176.1Z" fill="#bb33ff" stroke="#bb33ff" stroke-width="0.5"/>
<path d="M169.88 176.03L170.98 178.13L173.08 179.23L170.98 180.33L169.88 182.43L168.78 180.33L166.68 179.23L168.78 178.13Z" fill="#bb33ff" stroke="#bb33ff" stroke-width="0.5"/>
<path d="M175.92 179.07L177.02 181.17L179.12 182.27L177.02 183.37L175.92 185.47L174.82 183.37L172.72 182.27L174.82 181.17Z" fill="#bb33ff" stroke="#bb33ff" stroke-width="0.5"/>
<path d="M181.96 180.7L183.06 182.8L185.16 183.9L183.06 185L181.96 187.1L180.86 185L178.76 183.9L180.86 182.8Z" fill="#bb33ff" stroke="#bb33ff" stroke-width="0.5"/>
<path d="M188 183.34L189.1 185.44L191.2 186.54L189.1 187.64L188 189.74L186.9 187.64L184.8 186.54L186.9 185.44Z" fill="#bb33ff" stroke="#bb33ff" stroke-width="0.5"/>
<path d="M194.28 192.47L195.38 194.57L197.48 195.67L195.38 196.77L194.28 198.87L193.18 196.77L191.08 195.67L193.18 194.57Z" fill="#bb33ff" stroke="#bb33ff" stroke-width="0.5"/>
<path d="M200.56 199.21L201.66 201.31L203.76 202.41L201.66 203.51L200.56 205.61L199.46 203.51L197.36 202.41L199.46 201.31Z" fill="#bb33ff" stroke="#bb33ff" stroke-width="0.5"/>
<path d="M206.84 211.31L207.94 213.41L210.04 214.51L207.94 215.61L206.84 217.71L205.74 215.61L203.64 214.51L205.74 213.41Z" fill="#bb33ff" stroke="#bb33ff" stroke-width="0.5"/>
<path d="M213.12 229.14L214.22 231.24L216.32 232.34L214.22 233.44L213.12 235.54L212.02 233.44L209.92 232.34L212.02 231.24Z" fill="#bb33ff" stroke="#bb33ff" stroke-width="0.5"/>
<path d="M219.4 253.52L220.5 255.62L222.6 256.72L220.5 257.82L219.4 259.92L218.3 257.82L216.2 256.72L218.3 255.62Z" fill="#bb33ff" stroke="#bb33ff" stroke-width="0.5"/>
<path d="M225.52 280.04L226.62 282.14L228.72 283.24L226.62 284.34L225.52 286.44L224.42 284.34L222.32 283.24L224.42 282.14Z" fill="#bb33ff" stroke="#bb33ff" stroke-width="0.5"/>
<path d="M231.64 304.21L232.74 306.31L234.84 307.41L232.74 308.51L231.64 310.61L230.54 308.51L228.44 307.41L230.54 306.31Z" fill="#bb33ff" stroke="#bb33ff" stroke-width="0.5"/>
<path d="M237.76 320.19L238.86 322.29L240.96 323.39L238.86 324.49L237.76 326.59L236.66 324.49L234.56 323.39L236.66 322.29Z" fill="#bb33ff" stroke="#bb33ff" stroke-width="0.5"/>
<path d="M243.88 337.9L244.98 340L247.08 341.1L244.98 342.2L243.88 344.3L242.78 342.2L240.68 341.1L242.78 340Z" fill="#bb33ff" stroke="#bb33ff" stroke-width="0.5"/>
<path d="M250 351.43L251.1 353.53L253.2 354.63L251.1 355.73L250 357.83L248.9 355.73L246.8 354.63L248.9 353.53Z" fill="#bb33ff" stroke="#bb33ff" stroke-width="0.5"/>
<path d="M256.06 360.12L257.16 362.21L259.26 363.31L257.16 364.42L256.06 366.51L254.96 364.42L252.86 363.31L254.96 362.21Z" fill="#bb33ff" stroke="#bb33ff" stroke-width="0.5"/>
<path d="M262.12 363.98L263.22 366.07L265.32 367.18L263.22 368.28L262.12 370.38L261.02 368.28L258.92 367.18L261.02 366.07Z" fill="#bb33ff" stroke="#bb33ff" stroke-width="0.5"/>
<path d="M268.18 366.87L269.28 368.97L271.38 370.07L269.28 371.17L268.18 373.27L267.08 371.17L264.98 370.07L267.08 368.97Z" fill="#bb33ff" stroke="#bb33ff" stroke-width="0.5"/>
<path d="M274.24 368.8L275.34 370.9L277.44 372L275.34 373.1L274.24 375.2L273.14 373.1L271.04 372L273.14 370.9Z" fill="#bb33ff" stroke="#bb33ff" stroke-width="0.5"/>
<path d="M280.3 368.8L281.4 370.9L283.5 372L281.4 373.1L280.3 375.2L279.2 373.1L277.1 372L279.2 370.9Z" fill="#bb33ff" stroke="#bb33ff" stroke-width="0.5"/>
<path d="M286.64 368.8L287.74 370.9L289.84 372L287.74 373.1L286.64 375.2L285.54 373.1L283.44 372L285.54 370.9Z" fill="#bb33ff" stroke="#bb33ff" stroke-width="0.5"/>
<path d="M292.98 368.8L294.08 370.9L296.18 372L294.08 373.1L292.98 375.2L291.88 373.1L289.78 372L291.88 370.9Z" fill="#bb33ff" stroke="#bb33ff" stroke-width="0.5"/>
<path d="M299.32 368.8L300.42 370.9L302.52 372L300.42 373.1L299.32 375.2L298.22 373.1L296.12 372L298.22 370.9Z" fill="#bb33ff" stroke="#bb33ff" stroke-width="0.5"/>
<path d="M305.66 368.8L306.76 370.9L308.86 372L306.76 373.1L305.66 375.2L304.56 373.1L302.46 372L304.56 370.9Z" fill="#bb33ff" stroke="#bb33ff" stroke-width="0.5"/>
<path d="M312 368.8L313.1 370.9L315.2 372L313.1 373.1L312 375.2L310.9 373.1L308.8 372L310.9 370.9Z" fill="#bb33ff" stroke="#bb33ff" stroke-width="0.5"/>
<path d="M318 368.8L319.1 370.9L321.2 372L319.1 373.1L318 375.2L316.9 373.1L314.8 372L316.9 370.9Z" fill="#bb33ff" stroke="#bb33ff" stroke-width="0.5"/>
<path d="M324 368.8L325.1 370.9L327.2 372L325.1 373.1L324 375.2L322.9 373.1L320.8 372L322.9 370.9Z" fill="#bb33ff" stroke="#bb33ff" stroke-width="0.5"/>
<path d="M330 368.8L331.1 370.9L333.2 372L331.1 373.1L330 375.2L328.9 373.1L326.8 372L328.9 370.9Z" fill="#bb33ff" stroke="#bb33ff" stroke-width="0.5"/>
<path d="M336 368.8L337.1 370.9L339.2 372L337.1 373.1L336 375.2L334.9 373.1L332.8 372L334.9 370.9Z" fill="#bb33ff" stroke="#bb33ff" stroke-width="0.5"/>
<path d="M342 368.8L343.1 370.9L345.2 372L343.1 373.1L342 375.2L340.9 373.1L338.8 372L340.9 370.9Z" fill="#bb33ff" stroke="#bb33ff" stroke-width="0.5"/>
<rect x="270.5" y="181.5" width="69" height="44.5" fill="#fff" stroke="#111" stroke-width="1.4"/>
<path d="M273 186.4H296.5" stroke="#ff0a0a" stroke-width="1.3"/>
<path d="M282.15 186.4h5.2M284.75 183.8v5.2" stroke="#ff0a0a" stroke-width="1.3" fill="none"/>
<text x="298.5" y="188.8" class="lg">W=3 CD, d=0</text>
<path d="M273 195.8H288.25" stroke="#2244ff" stroke-width="1.3"/>
<path d="M290.75 195.8h1.3M293.95 195.8h1.3" stroke="#2244ff" stroke-width="1.3"/>
<circle cx="284.75" cy="195.8" r="2.0" stroke="#2244ff" stroke-width="1.2" fill="none"/>
<text x="298.5" y="198.2" class="lg">W=1 CD, d=0</text>
<path d="M273 203.9H296.5" stroke="#000000" stroke-width="1.3"/>
<path d="M282.15 203.9h5.2M284.75 201.3v5.2" stroke="#000000" stroke-width="1.3" fill="none"/>
<text x="298.5" y="206.3" class="lg">W=3 CD, d=1</text>
<path d="M273 213.3H288.25" stroke="#5cf010" stroke-width="1.3"/>
<path d="M290.75 213.3h1.3M293.95 213.3h1.3" stroke="#5cf010" stroke-width="1.3"/>
<path d="M284.75 210.7l2.6 2.6l-2.6 2.6l-2.6 -2.6z" stroke="#5cf010" stroke-width="1.1" fill="none"/>
<text x="298.5" y="215.7" class="lg">W=1 CD, d=1</text>
<path d="M273 221.5H288.25" stroke="#bb33ff" stroke-width="1.3"/>
<path d="M290.75 221.5h1.3M293.95 221.5h1.3" stroke="#bb33ff" stroke-width="1.3"/>
<path d="M284.75 218.3L285.85 220.4L287.95 221.5L285.85 222.6L284.75 224.7L283.65 222.6L281.55 221.5L283.65 220.4Z" fill="#bb33ff" stroke="#bb33ff" stroke-width="0.5"/>
<text x="298.5" y="223.9" class="lg">W=6 CD, d=1</text>
<text x="219" y="171" text-anchor="middle" class="pt">General RLL Sequences: Lowpass</text>
<text x="193" y="391.6" textLength="52.5" lengthAdjust="spacingAndGlyphs" class="al">Sparsity S</text>
<text transform="translate(79.3,345.5) rotate(-90)" textLength="140.5" lengthAdjust="spacingAndGlyphs" class="al yl">Probability of Reconstruction</text>
<text x="157.6" y="304.6" textLength="12.2" lengthAdjust="spacingAndGlyphs" class="rd">RD</text>
<text x="271.6" y="299.9" textLength="20.2" lengthAdjust="spacingAndGlyphs" class="rd">CRD</text>
<path d="M469.2 352.7H665.5" stroke="#111" stroke-width="1.6" stroke-dasharray="1.6 1.6" fill="none"/>
<path d="M665.5 352.7H715" stroke="#111" stroke-width="1.8" fill="none"/>
<path d="M469.2 332.7H665.5" stroke="#111" stroke-width="1.6" stroke-dasharray="1.6 1.6" fill="none"/>
<path d="M665.5 332.7H715" stroke="#111" stroke-width="1.8" fill="none"/>
<path d="M469.2 313.3H665.5" stroke="#111" stroke-width="1.6" stroke-dasharray="1.6 1.6" fill="none"/>
<path d="M665.5 313.3H715" stroke="#111" stroke-width="1.8" fill="none"/>
<path d="M469.2 294.3H665.5" stroke="#111" stroke-width="1.6" stroke-dasharray="1.6 1.6" fill="none"/>
<path d="M665.5 294.3H715" stroke="#111" stroke-width="1.8" fill="none"/>
<path d="M469.2 274.9H665.5" stroke="#111" stroke-width="1.6" stroke-dasharray="1.6 1.6" fill="none"/>
<path d="M665.5 274.9H715" stroke="#111" stroke-width="1.8" fill="none"/>
<path d="M469.2 254.7H665.5" stroke="#111" stroke-width="1.6" stroke-dasharray="1.6 1.6" fill="none"/>
<path d="M665.5 254.7H715" stroke="#111" stroke-width="1.8" fill="none"/>
<path d="M469.2 235.6H665.5" stroke="#111" stroke-width="1.6" stroke-dasharray="1.6 1.6" fill="none"/>
<path d="M665.5 235.6H715" stroke="#111" stroke-width="1.8" fill="none"/>
<path d="M469.2 216.4H665.5" stroke="#111" stroke-width="1.6" stroke-dasharray="1.6 1.6" fill="none"/>
<path d="M665.5 216.4H715" stroke="#111" stroke-width="1.8" fill="none"/>
<path d="M469.2 197.5H665.5" stroke="#111" stroke-width="1.6" stroke-dasharray="1.6 1.6" fill="none"/>
<path d="M665.5 197.5H715" stroke="#111" stroke-width="1.8" fill="none"/>
<path d="M469.2 177.2H665.5" stroke="#111" stroke-width="1.6" stroke-dasharray="1.6 1.6" fill="none"/>
<path d="M665.5 177.2H715" stroke="#111" stroke-width="1.8" fill="none"/>
<path d="M499 177.5V262" stroke="#111" stroke-width="1.6" stroke-dasharray="1.6 1.6" fill="none"/>
<path d="M499 262V353" stroke="#111" stroke-width="1.8" fill="none"/>
<path d="M499 353V372" stroke="#111" stroke-width="1.6" stroke-dasharray="1.6 1.6" fill="none"/>
<path d="M530.8 177.5V262" stroke="#111" stroke-width="1.6" stroke-dasharray="1.6 1.6" fill="none"/>
<path d="M530.8 262V353" stroke="#111" stroke-width="1.8" fill="none"/>
<path d="M530.8 353V372" stroke="#111" stroke-width="1.6" stroke-dasharray="1.6 1.6" fill="none"/>
<path d="M561 177.5V262" stroke="#111" stroke-width="1.6" stroke-dasharray="1.6 1.6" fill="none"/>
<path d="M561 262V353" stroke="#111" stroke-width="1.8" fill="none"/>
<path d="M561 353V372" stroke="#111" stroke-width="1.6" stroke-dasharray="1.6 1.6" fill="none"/>
<path d="M591.1 177.5V262" stroke="#111" stroke-width="1.6" stroke-dasharray="1.6 1.6" fill="none"/>
<path d="M591.1 262V353" stroke="#111" stroke-width="1.8" fill="none"/>
<path d="M591.1 353V372" stroke="#111" stroke-width="1.6" stroke-dasharray="1.6 1.6" fill="none"/>
<path d="M622.8 177.5V262" stroke="#111" stroke-width="1.6" stroke-dasharray="1.6 1.6" fill="none"/>
<path d="M622.8 262V353" stroke="#111" stroke-width="1.8" fill="none"/>
<path d="M622.8 353V372" stroke="#111" stroke-width="1.6" stroke-dasharray="1.6 1.6" fill="none"/>
<path d="M653.1 177.5V262" stroke="#111" stroke-width="1.6" stroke-dasharray="1.6 1.6" fill="none"/>
<path d="M653.1 262V353" stroke="#111" stroke-width="1.8" fill="none"/>
<path d="M653.1 353V372" stroke="#111" stroke-width="1.6" stroke-dasharray="1.6 1.6" fill="none"/>
<path d="M683.5 177.5V262" stroke="#111" stroke-width="1.6" stroke-dasharray="1.6 1.6" fill="none"/>
<path d="M683.5 262V353" stroke="#111" stroke-width="1.8" fill="none"/>
<path d="M683.5 353V372" stroke="#111" stroke-width="1.6" stroke-dasharray="1.6 1.6" fill="none"/>
<path d="M715 177.5V262" stroke="#111" stroke-width="1.6" stroke-dasharray="1.6 1.6" fill="none"/>
<path d="M715 262V353" stroke="#111" stroke-width="1.8" fill="none"/>
<path d="M715 353V372" stroke="#111" stroke-width="1.6" stroke-dasharray="1.6 1.6" fill="none"/>
<path d="M469.2 177V372H715" stroke="#111" stroke-width="1.6" fill="none"/>
<path d="M469.2 372h3" stroke="#111" stroke-width="1.2"/>
<path d="M469.2 352.7h3" stroke="#111" stroke-width="1.2"/>
<path d="M469.2 332.7h3" stroke="#111" stroke-width="1.2"/>
<path d="M469.2 313.3h3" stroke="#111" stroke-width="1.2"/>
<path d="M469.2 294.3h3" stroke="#111" stroke-width="1.2"/>
<path d="M469.2 274.9h3" stroke="#111" stroke-width="1.2"/>
<path d="M469.2 254.7h3" stroke="#111" stroke-width="1.2"/>
<path d="M469.2 235.6h3" stroke="#111" stroke-width="1.2"/>
<path d="M469.2 216.4h3" stroke="#111" stroke-width="1.2"/>
<path d="M469.2 197.5h3" stroke="#111" stroke-width="1.2"/>
<path d="M469.2 177.2h3" stroke="#111" stroke-width="1.2"/>
<path d="M469.2 372v-3" stroke="#111" stroke-width="1.2"/>
<path d="M499 372v-3" stroke="#111" stroke-width="1.2"/>
<path d="M530.8 372v-3" stroke="#111" stroke-width="1.2"/>
<path d="M561 372v-3" stroke="#111" stroke-width="1.2"/>
<path d="M591.1 372v-3" stroke="#111" stroke-width="1.2"/>
<path d="M622.8 372v-3" stroke="#111" stroke-width="1.2"/>
<path d="M653.1 372v-3" stroke="#111" stroke-width="1.2"/>
<path d="M683.5 372v-3" stroke="#111" stroke-width="1.2"/>
<path d="M715 372v-3" stroke="#111" stroke-width="1.2"/>
<text x="467" y="374.5" text-anchor="end" class="tk">0</text>
<text x="467" y="355.2" text-anchor="end" class="tk">0.1</text>
<text x="467" y="335.2" text-anchor="end" class="tk">0.2</text>
<text x="467" y="315.8" text-anchor="end" class="tk">0.3</text>
<text x="467" y="296.8" text-anchor="end" class="tk">0.4</text>
<text x="467" y="277.4" text-anchor="end" class="tk">0.5</text>
<text x="467" y="257.2" text-anchor="end" class="tk">0.6</text>
<text x="467" y="238.1" text-anchor="end" class="tk">0.7</text>
<text x="467" y="218.9" text-anchor="end" class="tk">0.8</text>
<text x="467" y="200" text-anchor="end" class="tk">0.9</text>
<text x="467" y="179.7" text-anchor="end" class="tk">1</text>
<text x="469.2" y="381.2" text-anchor="middle" class="tk">0</text>
<text x="499" y="381.2" text-anchor="middle" class="tk">5</text>
<text x="530.8" y="381.2" text-anchor="middle" class="tk">10</text>
<text x="561" y="381.2" text-anchor="middle" class="tk">15</text>
<text x="591.1" y="381.2" text-anchor="middle" class="tk">20</text>
<text x="622.8" y="381.2" text-anchor="middle" class="tk">25</text>
<text x="653.1" y="381.2" text-anchor="middle" class="tk">30</text>
<text x="683.5" y="381.2" text-anchor="middle" class="tk">35</text>
<text x="715" y="381.2" text-anchor="middle" class="tk">40</text>
<polyline points="475.16,177.2 481.12,177.2 487.08,177.2 493.04,177.2 499,177.2 505.36,177.2 511.72,177.2 518.08,177.2 524.44,177.2 530.8,177.2 536.84,177.2 542.88,177.2 548.92,179.23 554.96,181.26 561,188.16 567.02,202.41 573.04,216.98 579.06,243.62 585.08,266.82 591.1,300 597.44,327.27 603.78,348.1 610.12,357.14 616.46,365.25 622.8,370.46 628.86,372 634.92,372 640.98,372 647.04,372 653.1,372 659.18,372 665.26,372 671.34,372 677.42,372 683.5,372 689.8,372 696.1,372 702.4,372 708.7,372 715,372" stroke="#ff0a0a" stroke-width="1.5" fill="none"/>
<polyline points="475.16,177.2 481.12,177.2 487.08,177.2 493.04,177.2 499,177.2 505.36,177.2 511.72,177.2 518.08,177.2 524.44,177.2 530.8,177.2 536.84,179.23 542.88,184.1 548.92,194.86 554.96,218.32 561,253.94 567.02,289.06 573.04,314.27 579.06,343.9 585.08,357.14 591.1,363.12 597.44,369.11 603.78,372 610.12,372 616.46,372 622.8,372 628.86,372 634.92,372 640.98,372 647.04,372 653.1,372 659.18,372 665.26,372 671.34,372 677.42,372 683.5,372 689.8,372 696.1,372 702.4,372 708.7,372 715,372" stroke="#2244ff" stroke-width="1.5" fill="none" stroke-dasharray="1.2 1.9"/>
<polyline points="475.16,177.2 481.12,177.2 487.08,177.2 493.04,177.2 499,177.2 505.36,177.2 511.72,177.2 518.08,177.2 524.44,177.2 530.8,180.25 536.84,192.43 542.88,212.62 548.92,236.17 554.96,268.44 561,308.74 567.02,331.73 573.04,347.1 579.06,361.58 585.08,366.21 591.1,370.07 597.44,372 603.78,372 610.12,372 616.46,372 622.8,372 628.86,372 634.92,372 640.98,372 647.04,372 653.1,372 659.18,372 665.26,372 671.34,372 677.42,372 683.5,372 689.8,372 696.1,372 702.4,372 708.7,372 715,372" stroke="#000000" stroke-width="1.5" fill="none"/>
<polyline points="475.16,177.2 481.12,177.2 487.08,177.2 493.04,177.2 499,177.2 505.36,179.23 511.72,182.48 518.08,190.8 524.44,211.68 530.8,244.58 536.84,276.84 542.88,315.82 548.92,337.7 554.96,354.24 561,364.28 567.02,368.14 573.04,369.68 579.06,372 585.08,372 591.1,372 597.44,372 603.78,372 610.12,372 616.46,372 622.8,372 628.86,372 634.92,372 640.98,372 647.04,372 653.1,372 659.18,372 665.26,372 671.34,372 677.42,372 683.5,372 689.8,372 696.1,372 702.4,372 708.7,372 715,372" stroke="#5cf010" stroke-width="1.5" fill="none" stroke-dasharray="1.2 1.9"/>
<polyline points="475.16,177.2 481.12,177.2 487.08,177.2 493.04,177.2 499,179.23 505.36,185.32 511.72,199.39 518.08,231.76 524.44,269.85 530.8,313.3 536.84,341.9 542.88,361.19 548.92,366.6 554.96,370.07 561,372 567.02,372 573.04,372 579.06,372 585.08,372 591.1,372 597.44,372 603.78,372 610.12,372 616.46,372 622.8,372 628.86,372 634.92,372 640.98,372 647.04,372 653.1,372 659.18,372 665.26,372 671.34,372 677.42,372 683.5,372 689.8,372 696.1,372 702.4,372 708.7,372 715,372" stroke="#bb33ff" stroke-width="1.5" fill="none" stroke-dasharray="1.2 1.9"/>
<path d="M472.56 177.2h5.2M475.16 174.6v5.2" stroke="#ff0a0a" stroke-width="1.3" fill="none"/>
<path d="M478.52 177.2h5.2M481.12 174.6v5.2" stroke="#ff0a0a" stroke-width="1.3" fill="none"/>
<path d="M484.48 177.2h5.2M487.08 174.6v5.2" stroke="#ff0a0a" stroke-width="1.3" fill="none"/>
<path d="M490.44 177.2h5.2M493.04 174.6v5.2" stroke="#ff0a0a" stroke-width="1.3" fill="none"/>
<path d="M496.4 177.2h5.2M499 174.6v5.2" stroke="#ff0a0a" stroke-width="1.3" fill="none"/>
<path d="M502.76 177.2h5.2M505.36 174.6v5.2" stroke="#ff0a0a" stroke-width="1.3" fill="none"/>
<path d="M509.12 177.2h5.2M511.72 174.6v5.2" stroke="#ff0a0a" stroke-width="1.3" fill="none"/>
<path d="M515.48 177.2h5.2M518.08 174.6v5.2" stroke="#ff0a0a" stroke-width="1.3" fill="none"/>
<path d="M521.84 177.2h5.2M524.44 174.6v5.2" stroke="#ff0a0a" stroke-width="1.3" fill="none"/>
<path d="M528.2 177.2h5.2M530.8 174.6v5.2" stroke="#ff0a0a" stroke-width="1.3" fill="none"/>
<path d="M534.24 177.2h5.2M536.84 174.6v5.2" stroke="#ff0a0a" stroke-width="1.3" fill="none"/>
<path d="M540.28 177.2h5.2M542.88 174.6v5.2" stroke="#ff0a0a" stroke-width="1.3" fill="none"/>
<path d="M546.32 179.23h5.2M548.92 176.63v5.2" stroke="#ff0a0a" stroke-width="1.3" fill="none"/>
<path d="M552.36 181.26h5.2M554.96 178.66v5.2" stroke="#ff0a0a" stroke-width="1.3" fill="none"/>
<path d="M558.4 188.16h5.2M561 185.56v5.2" stroke="#ff0a0a" stroke-width="1.3" fill="none"/>
<path d="M564.42 202.41h5.2M567.02 199.81v5.2" stroke="#ff0a0a" stroke-width="1.3" fill="none"/>
<path d="M570.44 216.98h5.2M573.04 214.38v5.2" stroke="#ff0a0a" stroke-width="1.3" fill="none"/>
<path d="M576.46 243.62h5.2M579.06 241.02v5.2" stroke="#ff0a0a" stroke-width="1.3" fill="none"/>
<path d="M582.48 266.82h5.2M585.08 264.22v5.2" stroke="#ff0a0a" stroke-width="1.3" fill="none"/>
<path d="M588.5 300h5.2M591.1 297.4v5.2" stroke="#ff0a0a" stroke-width="1.3" fill="none"/>
<path d="M594.84 327.27h5.2M597.44 324.67v5.2" stroke="#ff0a0a" stroke-width="1.3" fill="none"/>
<path d="M601.18 348.1h5.2M603.78 345.5v5.2" stroke="#ff0a0a" stroke-width="1.3" fill="none"/>
<path d="M607.52 357.14h5.2M610.12 354.54v5.2" stroke="#ff0a0a" stroke-width="1.3" fill="none"/>
<path d="M613.86 365.25h5.2M616.46 362.64v5.2" stroke="#ff0a0a" stroke-width="1.3" fill="none"/>
<path d="M620.2 370.46h5.2M622.8 367.86v5.2" stroke="#ff0a0a" stroke-width="1.3" fill="none"/>
<path d="M626.26 372h5.2M628.86 369.4v5.2" stroke="#ff0a0a" stroke-width="1.3" fill="none"/>
<path d="M632.32 372h5.2M634.92 369.4v5.2" stroke="#ff0a0a" stroke-width="1.3" fill="none"/>
<path d="M638.38 372h5.2M640.98 369.4v5.2" stroke="#ff0a0a" stroke-width="1.3" fill="none"/>
<path d="M644.44 372h5.2M647.04 369.4v5.2" stroke="#ff0a0a" stroke-width="1.3" fill="none"/>
<path d="M650.5 372h5.2M653.1 369.4v5.2" stroke="#ff0a0a" stroke-width="1.3" fill="none"/>
<path d="M656.58 372h5.2M659.18 369.4v5.2" stroke="#ff0a0a" stroke-width="1.3" fill="none"/>
<path d="M662.66 372h5.2M665.26 369.4v5.2" stroke="#ff0a0a" stroke-width="1.3" fill="none"/>
<path d="M668.74 372h5.2M671.34 369.4v5.2" stroke="#ff0a0a" stroke-width="1.3" fill="none"/>
<path d="M674.82 372h5.2M677.42 369.4v5.2" stroke="#ff0a0a" stroke-width="1.3" fill="none"/>
<path d="M680.9 372h5.2M683.5 369.4v5.2" stroke="#ff0a0a" stroke-width="1.3" fill="none"/>
<path d="M687.2 372h5.2M689.8 369.4v5.2" stroke="#ff0a0a" stroke-width="1.3" fill="none"/>
<path d="M693.5 372h5.2M696.1 369.4v5.2" stroke="#ff0a0a" stroke-width="1.3" fill="none"/>
<path d="M699.8 372h5.2M702.4 369.4v5.2" stroke="#ff0a0a" stroke-width="1.3" fill="none"/>
<path d="M706.1 372h5.2M708.7 369.4v5.2" stroke="#ff0a0a" stroke-width="1.3" fill="none"/>
<path d="M712.4 372h5.2M715 369.4v5.2" stroke="#ff0a0a" stroke-width="1.3" fill="none"/>
<circle cx="475.16" cy="177.2" r="2.0" stroke="#2244ff" stroke-width="1.2" fill="none"/>
<circle cx="481.12" cy="177.2" r="2.0" stroke="#2244ff" stroke-width="1.2" fill="none"/>
<circle cx="487.08" cy="177.2" r="2.0" stroke="#2244ff" stroke-width="1.2" fill="none"/>
<circle cx="493.04" cy="177.2" r="2.0" stroke="#2244ff" stroke-width="1.2" fill="none"/>
<circle cx="499" cy="177.2" r="2.0" stroke="#2244ff" stroke-width="1.2" fill="none"/>
<circle cx="505.36" cy="177.2" r="2.0" stroke="#2244ff" stroke-width="1.2" fill="none"/>
<circle cx="511.72" cy="177.2" r="2.0" stroke="#2244ff" stroke-width="1.2" fill="none"/>
<circle cx="518.08" cy="177.2" r="2.0" stroke="#2244ff" stroke-width="1.2" fill="none"/>
<circle cx="524.44" cy="177.2" r="2.0" stroke="#2244ff" stroke-width="1.2" fill="none"/>
<circle cx="530.8" cy="177.2" r="2.0" stroke="#2244ff" stroke-width="1.2" fill="none"/>
<circle cx="536.84" cy="179.23" r="2.0" stroke="#2244ff" stroke-width="1.2" fill="none"/>
<circle cx="542.88" cy="184.1" r="2.0" stroke="#2244ff" stroke-width="1.2" fill="none"/>
<circle cx="548.92" cy="194.86" r="2.0" stroke="#2244ff" stroke-width="1.2" fill="none"/>
<circle cx="554.96" cy="218.32" r="2.0" stroke="#2244ff" stroke-width="1.2" fill="none"/>
<circle cx="561" cy="253.94" r="2.0" stroke="#2244ff" stroke-width="1.2" fill="none"/>
<circle cx="567.02" cy="289.06" r="2.0" stroke="#2244ff" stroke-width="1.2" fill="none"/>
<circle cx="573.04" cy="314.27" r="2.0" stroke="#2244ff" stroke-width="1.2" fill="none"/>
<circle cx="579.06" cy="343.9" r="2.0" stroke="#2244ff" stroke-width="1.2" fill="none"/>
<circle cx="585.08" cy="357.14" r="2.0" stroke="#2244ff" stroke-width="1.2" fill="none"/>
<circle cx="591.1" cy="363.12" r="2.0" stroke="#2244ff" stroke-width="1.2" fill="none"/>
<circle cx="597.44" cy="369.11" r="2.0" stroke="#2244ff" stroke-width="1.2" fill="none"/>
<circle cx="603.78" cy="372" r="2.0" stroke="#2244ff" stroke-width="1.2" fill="none"/>
<circle cx="610.12" cy="372" r="2.0" stroke="#2244ff" stroke-width="1.2" fill="none"/>
<circle cx="616.46" cy="372" r="2.0" stroke="#2244ff" stroke-width="1.2" fill="none"/>
<circle cx="622.8" cy="372" r="2.0" stroke="#2244ff" stroke-width="1.2" fill="none"/>
<circle cx="628.86" cy="372" r="2.0" stroke="#2244ff" stroke-width="1.2" fill="none"/>
<circle cx="634.92" cy="372" r="2.0" stroke="#2244ff" stroke-width="1.2" fill="none"/>
<circle cx="640.98" cy="372" r="2.0" stroke="#2244ff" stroke-width="1.2" fill="none"/>
<circle cx="647.04" cy="372" r="2.0" stroke="#2244ff" stroke-width="1.2" fill="none"/>
<circle cx="653.1" cy="372" r="2.0" stroke="#2244ff" stroke-width="1.2" fill="none"/>
<circle cx="659.18" cy="372" r="2.0" stroke="#2244ff" stroke-width="1.2" fill="none"/>
<circle cx="665.26" cy="372" r="2.0" stroke="#2244ff" stroke-width="1.2" fill="none"/>
<circle cx="671.34" cy="372" r="2.0" stroke="#2244ff" stroke-width="1.2" fill="none"/>
<circle cx="677.42" cy="372" r="2.0" stroke="#2244ff" stroke-width="1.2" fill="none"/>
<circle cx="683.5" cy="372" r="2.0" stroke="#2244ff" stroke-width="1.2" fill="none"/>
<circle cx="689.8" cy="372" r="2.0" stroke="#2244ff" stroke-width="1.2" fill="none"/>
<circle cx="696.1" cy="372" r="2.0" stroke="#2244ff" stroke-width="1.2" fill="none"/>
<circle cx="702.4" cy="372" r="2.0" stroke="#2244ff" stroke-width="1.2" fill="none"/>
<circle cx="708.7" cy="372" r="2.0" stroke="#2244ff" stroke-width="1.2" fill="none"/>
<circle cx="715" cy="372" r="2.0" stroke="#2244ff" stroke-width="1.2" fill="none"/>
<path d="M472.56 177.2h5.2M475.16 174.6v5.2" stroke="#000000" stroke-width="1.3" fill="none"/>
<path d="M478.52 177.2h5.2M481.12 174.6v5.2" stroke="#000000" stroke-width="1.3" fill="none"/>
<path d="M484.48 177.2h5.2M487.08 174.6v5.2" stroke="#000000" stroke-width="1.3" fill="none"/>
<path d="M490.44 177.2h5.2M493.04 174.6v5.2" stroke="#000000" stroke-width="1.3" fill="none"/>
<path d="M496.4 177.2h5.2M499 174.6v5.2" stroke="#000000" stroke-width="1.3" fill="none"/>
<path d="M502.76 177.2h5.2M505.36 174.6v5.2" stroke="#000000" stroke-width="1.3" fill="none"/>
<path d="M509.12 177.2h5.2M511.72 174.6v5.2" stroke="#000000" stroke-width="1.3" fill="none"/>
<path d="M515.48 177.2h5.2M518.08 174.6v5.2" stroke="#000000" stroke-width="1.3" fill="none"/>
<path d="M521.84 177.2h5.2M524.44 174.6v5.2" stroke="#000000" stroke-width="1.3" fill="none"/>
<path d="M528.2 180.25h5.2M530.8 177.65v5.2" stroke="#000000" stroke-width="1.3" fill="none"/>
<path d="M534.24 192.43h5.2M536.84 189.83v5.2" stroke="#000000" stroke-width="1.3" fill="none"/>
<path d="M540.28 212.62h5.2M542.88 210.02v5.2" stroke="#000000" stroke-width="1.3" fill="none"/>
<path d="M546.32 236.17h5.2M548.92 233.57v5.2" stroke="#000000" stroke-width="1.3" fill="none"/>
<path d="M552.36 268.44h5.2M554.96 265.84v5.2" stroke="#000000" stroke-width="1.3" fill="none"/>
<path d="M558.4 308.74h5.2M561 306.14v5.2" stroke="#000000" stroke-width="1.3" fill="none"/>
<path d="M564.42 331.73h5.2M567.02 329.13v5.2" stroke="#000000" stroke-width="1.3" fill="none"/>
<path d="M570.44 347.1h5.2M573.04 344.5v5.2" stroke="#000000" stroke-width="1.3" fill="none"/>
<path d="M576.46 361.58h5.2M579.06 358.98v5.2" stroke="#000000" stroke-width="1.3" fill="none"/>
<path d="M582.48 366.21h5.2M585.08 363.61v5.2" stroke="#000000" stroke-width="1.3" fill="none"/>
<path d="M588.5 370.07h5.2M591.1 367.47v5.2" stroke="#000000" stroke-width="1.3" fill="none"/>
<path d="M594.84 372h5.2M597.44 369.4v5.2" stroke="#000000" stroke-width="1.3" fill="none"/>
<path d="M601.18 372h5.2M603.78 369.4v5.2" stroke="#000000" stroke-width="1.3" fill="none"/>
<path d="M607.52 372h5.2M610.12 369.4v5.2" stroke="#000000" stroke-width="1.3" fill="none"/>
<path d="M613.86 372h5.2M616.46 369.4v5.2" stroke="#000000" stroke-width="1.3" fill="none"/>
<path d="M620.2 372h5.2M622.8 369.4v5.2" stroke="#000000" stroke-width="1.3" fill="none"/>
<path d="M626.26 372h5.2M628.86 369.4v5.2" stroke="#000000" stroke-width="1.3" fill="none"/>
<path d="M632.32 372h5.2M634.92 369.4v5.2" stroke="#000000" stroke-width="1.3" fill="none"/>
<path d="M638.38 372h5.2M640.98 369.4v5.2" stroke="#000000" stroke-width="1.3" fill="none"/>
<path d="M644.44 372h5.2M647.04 369.4v5.2" stroke="#000000" stroke-width="1.3" fill="none"/>
<path d="M650.5 372h5.2M653.1 369.4v5.2" stroke="#000000" stroke-width="1.3" fill="none"/>
<path d="M656.58 372h5.2M659.18 369.4v5.2" stroke="#000000" stroke-width="1.3" fill="none"/>
<path d="M662.66 372h5.2M665.26 369.4v5.2" stroke="#000000" stroke-width="1.3" fill="none"/>
<path d="M668.74 372h5.2M671.34 369.4v5.2" stroke="#000000" stroke-width="1.3" fill="none"/>
<path d="M674.82 372h5.2M677.42 369.4v5.2" stroke="#000000" stroke-width="1.3" fill="none"/>
<path d="M680.9 372h5.2M683.5 369.4v5.2" stroke="#000000" stroke-width="1.3" fill="none"/>
<path d="M687.2 372h5.2M689.8 369.4v5.2" stroke="#000000" stroke-width="1.3" fill="none"/>
<path d="M693.5 372h5.2M696.1 369.4v5.2" stroke="#000000" stroke-width="1.3" fill="none"/>
<path d="M699.8 372h5.2M702.4 369.4v5.2" stroke="#000000" stroke-width="1.3" fill="none"/>
<path d="M706.1 372h5.2M708.7 369.4v5.2" stroke="#000000" stroke-width="1.3" fill="none"/>
<path d="M712.4 372h5.2M715 369.4v5.2" stroke="#000000" stroke-width="1.3" fill="none"/>
<path d="M475.16 174.6l2.6 2.6l-2.6 2.6l-2.6 -2.6z" stroke="#5cf010" stroke-width="1.1" fill="none"/>
<path d="M481.12 174.6l2.6 2.6l-2.6 2.6l-2.6 -2.6z" stroke="#5cf010" stroke-width="1.1" fill="none"/>
<path d="M487.08 174.6l2.6 2.6l-2.6 2.6l-2.6 -2.6z" stroke="#5cf010" stroke-width="1.1" fill="none"/>
<path d="M493.04 174.6l2.6 2.6l-2.6 2.6l-2.6 -2.6z" stroke="#5cf010" stroke-width="1.1" fill="none"/>
<path d="M499 174.6l2.6 2.6l-2.6 2.6l-2.6 -2.6z" stroke="#5cf010" stroke-width="1.1" fill="none"/>
<path d="M505.36 176.63l2.6 2.6l-2.6 2.6l-2.6 -2.6z" stroke="#5cf010" stroke-width="1.1" fill="none"/>
<path d="M511.72 179.88l2.6 2.6l-2.6 2.6l-2.6 -2.6z" stroke="#5cf010" stroke-width="1.1" fill="none"/>
<path d="M518.08 188.2l2.6 2.6l-2.6 2.6l-2.6 -2.6z" stroke="#5cf010" stroke-width="1.1" fill="none"/>
<path d="M524.44 209.08l2.6 2.6l-2.6 2.6l-2.6 -2.6z" stroke="#5cf010" stroke-width="1.1" fill="none"/>
<path d="M530.8 241.98l2.6 2.6l-2.6 2.6l-2.6 -2.6z" stroke="#5cf010" stroke-width="1.1" fill="none"/>
<path d="M536.84 274.24l2.6 2.6l-2.6 2.6l-2.6 -2.6z" stroke="#5cf010" stroke-width="1.1" fill="none"/>
<path d="M542.88 313.22l2.6 2.6l-2.6 2.6l-2.6 -2.6z" stroke="#5cf010" stroke-width="1.1" fill="none"/>
<path d="M548.92 335.1l2.6 2.6l-2.6 2.6l-2.6 -2.6z" stroke="#5cf010" stroke-width="1.1" fill="none"/>
<path d="M554.96 351.64l2.6 2.6l-2.6 2.6l-2.6 -2.6z" stroke="#5cf010" stroke-width="1.1" fill="none"/>
<path d="M561 361.68l2.6 2.6l-2.6 2.6l-2.6 -2.6z" stroke="#5cf010" stroke-width="1.1" fill="none"/>
<path d="M567.02 365.54l2.6 2.6l-2.6 2.6l-2.6 -2.6z" stroke="#5cf010" stroke-width="1.1" fill="none"/>
<path d="M573.04 367.08l2.6 2.6l-2.6 2.6l-2.6 -2.6z" stroke="#5cf010" stroke-width="1.1" fill="none"/>
<path d="M579.06 369.4l2.6 2.6l-2.6 2.6l-2.6 -2.6z" stroke="#5cf010" stroke-width="1.1" fill="none"/>
<path d="M585.08 369.4l2.6 2.6l-2.6 2.6l-2.6 -2.6z" stroke="#5cf010" stroke-width="1.1" fill="none"/>
<path d="M591.1 369.4l2.6 2.6l-2.6 2.6l-2.6 -2.6z" stroke="#5cf010" stroke-width="1.1" fill="none"/>
<path d="M597.44 369.4l2.6 2.6l-2.6 2.6l-2.6 -2.6z" stroke="#5cf010" stroke-width="1.1" fill="none"/>
<path d="M603.78 369.4l2.6 2.6l-2.6 2.6l-2.6 -2.6z" stroke="#5cf010" stroke-width="1.1" fill="none"/>
<path d="M610.12 369.4l2.6 2.6l-2.6 2.6l-2.6 -2.6z" stroke="#5cf010" stroke-width="1.1" fill="none"/>
<path d="M616.46 369.4l2.6 2.6l-2.6 2.6l-2.6 -2.6z" stroke="#5cf010" stroke-width="1.1" fill="none"/>
<path d="M622.8 369.4l2.6 2.6l-2.6 2.6l-2.6 -2.6z" stroke="#5cf010" stroke-width="1.1" fill="none"/>
<path d="M628.86 369.4l2.6 2.6l-2.6 2.6l-2.6 -2.6z" stroke="#5cf010" stroke-width="1.1" fill="none"/>
<path d="M634.92 369.4l2.6 2.6l-2.6 2.6l-2.6 -2.6z" stroke="#5cf010" stroke-width="1.1" fill="none"/>
<path d="M640.98 369.4l2.6 2.6l-2.6 2.6l-2.6 -2.6z" stroke="#5cf010" stroke-width="1.1" fill="none"/>
<path d="M647.04 369.4l2.6 2.6l-2.6 2.6l-2.6 -2.6z" stroke="#5cf010" stroke-width="1.1" fill="none"/>
<path d="M653.1 369.4l2.6 2.6l-2.6 2.6l-2.6 -2.6z" stroke="#5cf010" stroke-width="1.1" fill="none"/>
<path d="M659.18 369.4l2.6 2.6l-2.6 2.6l-2.6 -2.6z" stroke="#5cf010" stroke-width="1.1" fill="none"/>
<path d="M665.26 369.4l2.6 2.6l-2.6 2.6l-2.6 -2.6z" stroke="#5cf010" stroke-width="1.1" fill="none"/>
<path d="M671.34 369.4l2.6 2.6l-2.6 2.6l-2.6 -2.6z" stroke="#5cf010" stroke-width="1.1" fill="none"/>
<path d="M677.42 369.4l2.6 2.6l-2.6 2.6l-2.6 -2.6z" stroke="#5cf010" stroke-width="1.1" fill="none"/>
<path d="M683.5 369.4l2.6 2.6l-2.6 2.6l-2.6 -2.6z" stroke="#5cf010" stroke-width="1.1" fill="none"/>
<path d="M689.8 369.4l2.6 2.6l-2.6 2.6l-2.6 -2.6z" stroke="#5cf010" stroke-width="1.1" fill="none"/>
<path d="M696.1 369.4l2.6 2.6l-2.6 2.6l-2.6 -2.6z" stroke="#5cf010" stroke-width="1.1" fill="none"/>
<path d="M702.4 369.4l2.6 2.6l-2.6 2.6l-2.6 -2.6z" stroke="#5cf010" stroke-width="1.1" fill="none"/>
<path d="M708.7 369.4l2.6 2.6l-2.6 2.6l-2.6 -2.6z" stroke="#5cf010" stroke-width="1.1" fill="none"/>
<path d="M715 369.4l2.6 2.6l-2.6 2.6l-2.6 -2.6z" stroke="#5cf010" stroke-width="1.1" fill="none"/>
<path d="M475.16 174L476.26 176.1L478.36 177.2L476.26 178.3L475.16 180.4L474.06 178.3L471.96 177.2L474.06 176.1Z" fill="#bb33ff" stroke="#bb33ff" stroke-width="0.5"/>
<path d="M481.12 174L482.22 176.1L484.32 177.2L482.22 178.3L481.12 180.4L480.02 178.3L477.92 177.2L480.02 176.1Z" fill="#bb33ff" stroke="#bb33ff" stroke-width="0.5"/>
<path d="M487.08 174L488.18 176.1L490.28 177.2L488.18 178.3L487.08 180.4L485.98 178.3L483.88 177.2L485.98 176.1Z" fill="#bb33ff" stroke="#bb33ff" stroke-width="0.5"/>
<path d="M493.04 174L494.14 176.1L496.24 177.2L494.14 178.3L493.04 180.4L491.94 178.3L489.84 177.2L491.94 176.1Z" fill="#bb33ff" stroke="#bb33ff" stroke-width="0.5"/>
<path d="M499 176.03L500.1 178.13L502.2 179.23L500.1 180.33L499 182.43L497.9 180.33L495.8 179.23L497.9 178.13Z" fill="#bb33ff" stroke="#bb33ff" stroke-width="0.5"/>
<path d="M505.36 182.12L506.46 184.22L508.56 185.32L506.46 186.42L505.36 188.52L504.26 186.42L502.16 185.32L504.26 184.22Z" fill="#bb33ff" stroke="#bb33ff" stroke-width="0.5"/>
<path d="M511.72 196.19L512.82 198.29L514.92 199.39L512.82 200.49L511.72 202.59L510.62 200.49L508.52 199.39L510.62 198.29Z" fill="#bb33ff" stroke="#bb33ff" stroke-width="0.5"/>
<path d="M518.08 228.56L519.18 230.66L521.28 231.76L519.18 232.86L518.08 234.96L516.98 232.86L514.88 231.76L516.98 230.66Z" fill="#bb33ff" stroke="#bb33ff" stroke-width="0.5"/>
<path d="M524.44 266.65L525.54 268.75L527.64 269.85L525.54 270.95L524.44 273.05L523.34 270.95L521.24 269.85L523.34 268.75Z" fill="#bb33ff" stroke="#bb33ff" stroke-width="0.5"/>
<path d="M530.8 310.1L531.9 312.2L534 313.3L531.9 314.4L530.8 316.5L529.7 314.4L527.6 313.3L529.7 312.2Z" fill="#bb33ff" stroke="#bb33ff" stroke-width="0.5"/>
<path d="M536.84 338.7L537.94 340.8L540.04 341.9L537.94 343L536.84 345.1L535.74 343L533.64 341.9L535.74 340.8Z" fill="#bb33ff" stroke="#bb33ff" stroke-width="0.5"/>
<path d="M542.88 357.99L543.98 360.09L546.08 361.19L543.98 362.29L542.88 364.39L541.78 362.29L539.68 361.19L541.78 360.09Z" fill="#bb33ff" stroke="#bb33ff" stroke-width="0.5"/>
<path d="M548.92 363.4L550.02 365.5L552.12 366.6L550.02 367.7L548.92 369.8L547.82 367.7L545.72 366.6L547.82 365.5Z" fill="#bb33ff" stroke="#bb33ff" stroke-width="0.5"/>
<path d="M554.96 366.87L556.06 368.97L558.16 370.07L556.06 371.17L554.96 373.27L553.86 371.17L551.76 370.07L553.86 368.97Z" fill="#bb33ff" stroke="#bb33ff" stroke-width="0.5"/>
<path d="M561 368.8L562.1 370.9L564.2 372L562.1 373.1L561 375.2L559.9 373.1L557.8 372L559.9 370.9Z" fill="#bb33ff" stroke="#bb33ff" stroke-width="0.5"/>
<path d="M567.02 368.8L568.12 370.9L570.22 372L568.12 373.1L567.02 375.2L565.92 373.1L563.82 372L565.92 370.9Z" fill="#bb33ff" stroke="#bb33ff" stroke-width="0.5"/>
<path d="M573.04 368.8L574.14 370.9L576.24 372L574.14 373.1L573.04 375.2L571.94 373.1L569.84 372L571.94 370.9Z" fill="#bb33ff" stroke="#bb33ff" stroke-width="0.5"/>
<path d="M579.06 368.8L580.16 370.9L582.26 372L580.16 373.1L579.06 375.2L577.96 373.1L575.86 372L577.96 370.9Z" fill="#bb33ff" stroke="#bb33ff" stroke-width="0.5"/>
<path d="M585.08 368.8L586.18 370.9L588.28 372L586.18 373.1L585.08 375.2L583.98 373.1L581.88 372L583.98 370.9Z" fill="#bb33ff" stroke="#bb33ff" stroke-width="0.5"/>
<path d="M591.1 368.8L592.2 370.9L594.3 372L592.2 373.1L591.1 375.2L590 373.1L587.9 372L590 370.9Z" fill="#bb33ff" stroke="#bb33ff" stroke-width="0.5"/>
<path d="M597.44 368.8L598.54 370.9L600.64 372L598.54 373.1L597.44 375.2L596.34 373.1L594.24 372L596.34 370.9Z" fill="#bb33ff" stroke="#bb33ff" stroke-width="0.5"/>
<path d="M603.78 368.8L604.88 370.9L606.98 372L604.88 373.1L603.78 375.2L602.68 373.1L600.58 372L602.68 370.9Z" fill="#bb33ff" stroke="#bb33ff" stroke-width="0.5"/>
<path d="M610.12 368.8L611.22 370.9L613.32 372L611.22 373.1L610.12 375.2L609.02 373.1L606.92 372L609.02 370.9Z" fill="#bb33ff" stroke="#bb33ff" stroke-width="0.5"/>
<path d="M616.46 368.8L617.56 370.9L619.66 372L617.56 373.1L616.46 375.2L615.36 373.1L613.26 372L615.36 370.9Z" fill="#bb33ff" stroke="#bb33ff" stroke-width="0.5"/>
<path d="M622.8 368.8L623.9 370.9L626 372L623.9 373.1L622.8 375.2L621.7 373.1L619.6 372L621.7 370.9Z" fill="#bb33ff" stroke="#bb33ff" stroke-width="0.5"/>
<path d="M628.86 368.8L629.96 370.9L632.06 372L629.96 373.1L628.86 375.2L627.76 373.1L625.66 372L627.76 370.9Z" fill="#bb33ff" stroke="#bb33ff" stroke-width="0.5"/>
<path d="M634.92 368.8L636.02 370.9L638.12 372L636.02 373.1L634.92 375.2L633.82 373.1L631.72 372L633.82 370.9Z" fill="#bb33ff" stroke="#bb33ff" stroke-width="0.5"/>
<path d="M640.98 368.8L642.08 370.9L644.18 372L642.08 373.1L640.98 375.2L639.88 373.1L637.78 372L639.88 370.9Z" fill="#bb33ff" stroke="#bb33ff" stroke-width="0.5"/>
<path d="M647.04 368.8L648.14 370.9L650.24 372L648.14 373.1L647.04 375.2L645.94 373.1L643.84 372L645.94 370.9Z" fill="#bb33ff" stroke="#bb33ff" stroke-width="0.5"/>
<path d="M653.1 368.8L654.2 370.9L656.3 372L654.2 373.1L653.1 375.2L652 373.1L649.9 372L652 370.9Z" fill="#bb33ff" stroke="#bb33ff" stroke-width="0.5"/>
<path d="M659.18 368.8L660.28 370.9L662.38 372L660.28 373.1L659.18 375.2L658.08 373.1L655.98 372L658.08 370.9Z" fill="#bb33ff" stroke="#bb33ff" stroke-width="0.5"/>
<path d="M665.26 368.8L666.36 370.9L668.46 372L666.36 373.1L665.26 375.2L664.16 373.1L662.06 372L664.16 370.9Z" fill="#bb33ff" stroke="#bb33ff" stroke-width="0.5"/>
<path d="M671.34 368.8L672.44 370.9L674.54 372L672.44 373.1L671.34 375.2L670.24 373.1L668.14 372L670.24 370.9Z" fill="#bb33ff" stroke="#bb33ff" stroke-width="0.5"/>
<path d="M677.42 368.8L678.52 370.9L680.62 372L678.52 373.1L677.42 375.2L676.32 373.1L674.22 372L676.32 370.9Z" fill="#bb33ff" stroke="#bb33ff" stroke-width="0.5"/>
<path d="M683.5 368.8L684.6 370.9L686.7 372L684.6 373.1L683.5 375.2L682.4 373.1L680.3 372L682.4 370.9Z" fill="#bb33ff" stroke="#bb33ff" stroke-width="0.5"/>
<path d="M689.8 368.8L690.9 370.9L693 372L690.9 373.1L689.8 375.2L688.7 373.1L686.6 372L688.7 370.9Z" fill="#bb33ff" stroke="#bb33ff" stroke-width="0.5"/>
<path d="M696.1 368.8L697.2 370.9L699.3 372L697.2 373.1L696.1 375.2L695 373.1L692.9 372L695 370.9Z" fill="#bb33ff" stroke="#bb33ff" stroke-width="0.5"/>
<path d="M702.4 368.8L703.5 370.9L705.6 372L703.5 373.1L702.4 375.2L701.3 373.1L699.2 372L701.3 370.9Z" fill="#bb33ff" stroke="#bb33ff" stroke-width="0.5"/>
<path d="M708.7 368.8L709.8 370.9L711.9 372L709.8 373.1L708.7 375.2L707.6 373.1L705.5 372L707.6 370.9Z" fill="#bb33ff" stroke="#bb33ff" stroke-width="0.5"/>
<path d="M715 368.8L716.1 370.9L718.2 372L716.1 373.1L715 375.2L713.9 373.1L711.8 372L713.9 370.9Z" fill="#bb33ff" stroke="#bb33ff" stroke-width="0.5"/>
<rect x="642" y="181.5" width="70" height="45" fill="#fff" stroke="#111" stroke-width="1.4"/>
<path d="M644.5 186.4H668" stroke="#ff0a0a" stroke-width="1.3"/>
<path d="M653.65 186.4h5.2M656.25 183.8v5.2" stroke="#ff0a0a" stroke-width="1.3" fill="none"/>
<text x="670" y="188.8" class="lg">W=3 CD, d=0</text>
<path d="M644.8 195.8H668" stroke="#2244ff" stroke-width="1.3" stroke-dasharray="1.3 1.8"/>
<circle cx="656.25" cy="195.8" r="2.0" stroke="#2244ff" stroke-width="1.2" fill="none"/>
<text x="670" y="198.2" class="lg">W=4 CD, d=0</text>
<path d="M644.5 203.9H668" stroke="#000000" stroke-width="1.3"/>
<path d="M653.65 203.9h5.2M656.25 201.3v5.2" stroke="#000000" stroke-width="1.3" fill="none"/>
<text x="670" y="206.3" class="lg">W=3 CD, d=1</text>
<path d="M644.8 213.3H668" stroke="#5cf010" stroke-width="1.3" stroke-dasharray="1.3 1.8"/>
<path d="M656.25 210.7l2.6 2.6l-2.6 2.6l-2.6 -2.6z" stroke="#5cf010" stroke-width="1.1" fill="none"/>
<text x="670" y="215.7" class="lg">W=4 CD, d=1</text>
<path d="M644.8 221.5H668" stroke="#bb33ff" stroke-width="1.3" stroke-dasharray="1.3 1.8"/>
<path d="M656.25 218.3L657.35 220.4L659.45 221.5L657.35 222.6L656.25 224.7L655.15 222.6L653.05 221.5L655.15 220.4Z" fill="#bb33ff" stroke="#bb33ff" stroke-width="0.5"/>
<text x="670" y="223.9" class="lg">W=8 CD, d=1</text>
<text x="592.1" y="171" text-anchor="middle" class="pt">General RLL Sequences: Highpass</text>
<text x="565.3" y="391.6" textLength="51.5" lengthAdjust="spacingAndGlyphs" class="al">Sparsity S</text>
<text transform="translate(450.3,345.5) rotate(-90)" textLength="140.5" lengthAdjust="spacingAndGlyphs" class="al yl">Probability of Reconstruction</text>
<text x="499.3" y="301.4" textLength="18" lengthAdjust="spacingAndGlyphs" class="rd">CRD</text>
<text x="606.6" y="304.6" textLength="12.4" lengthAdjust="spacingAndGlyphs" class="rd">RD</text>
<path d="M514 587.5L518 584.3H520.8V590.6H518Z" fill="#d8d8fd"/>
<rect x="529.3" y="584.8" width="6.4" height="6" fill="none" stroke="#aeaefc" stroke-width="1.6"/>
<path d="M546 584.2L551.6 587.6L546 590.8Z" fill="#d8d8fd"/>
<path d="M561.5 587.5L565.5 584.3H568.3V590.6H565.5Z" fill="#d8d8fd"/>
<path d="M576 583.5h9v6h-2" fill="none" stroke="#aeaefc" stroke-width="1.8"/><rect x="574.5" y="586.5" width="8" height="6" fill="none" stroke="#aeaefc" stroke-width="1.8"/><rect x="577" y="583" width="8" height="3" fill="#aeaefc"/>
<path d="M593.5 584.2L599.1 587.6L593.5 590.8Z" fill="#d8d8fd"/>
<path d="M609 587.5L613 584.3H615.8V590.6H613Z" fill="#d8d8fd"/>
<path d="M624 583.2H631.5" stroke="#d8d8fd" stroke-width="1.7"/><path d="M626 584.9H633.5" stroke="#aeaefc" stroke-width="1.7"/><path d="M626 588.1H633.5" stroke="#d8d8fd" stroke-width="1.7"/><path d="M624 589.8H631.5" stroke="#d8d8fd" stroke-width="1.7"/><path d="M626 593H633.5" stroke="#d8d8fd" stroke-width="1.7"/>
<path d="M641 584.2L646.6 587.6L641 590.8Z" fill="#d8d8fd"/>
<path d="M658 587.5L662 584.3H664.8V590.6H662Z" fill="#d8d8fd"/>
<path d="M671 583.2H678.5" stroke="#aeaefc" stroke-width="1.7"/><path d="M673 584.9H680.5" stroke="#aeaefc" stroke-width="1.7"/><path d="M673 588.1H680.5" stroke="#aeaefc" stroke-width="1.7"/><path d="M671 589.8H678.5" stroke="#d8d8fd" stroke-width="1.7"/><path d="M673 593H680.5" stroke="#d8d8fd" stroke-width="1.7"/>
<path d="M689 584.2L694.6 587.6L689 590.8Z" fill="#d8d8fd"/>
<path d="M719 583.2H726.5" stroke="#aeaefc" stroke-width="1.7"/><path d="M721 584.9H728.5" stroke="#aeaefc" stroke-width="1.7"/><path d="M721 588.1H728.5" stroke="#aeaefc" stroke-width="1.7"/><path d="M719 589.8H726.5" stroke="#aeaefc" stroke-width="1.7"/><path d="M721 593H728.5" stroke="#aeaefc" stroke-width="1.7"/>
<path d="M751 586.3L753.6 588.6L755.6 585.2Q757.2 583.1 759.6 583.3Q762.6 583.7 762.9 586.9Q762.9 589.6 759.6 592.9" fill="none" stroke="#aeaefc" stroke-width="1.6" stroke-linejoin="round"/>
<path d="M767.1 586.2L769.4 584.6H772L774.2 586.2L770.5 589.4ZM772.4 589L775.8 592.2" fill="none" stroke="#aeaefc" stroke-width="1.3" stroke-linejoin="round"/>
<path d="M785.4 593L781.4 589.4Q779.6 586.9 781.5 584.8Q783.5 583 786.6 583.4Q788.6 583.9 789.3 586.3M787.8 588.2L791.6 586" fill="none" stroke="#aeaefc" stroke-width="1.6" stroke-linejoin="round"/>
</svg></body></html>
